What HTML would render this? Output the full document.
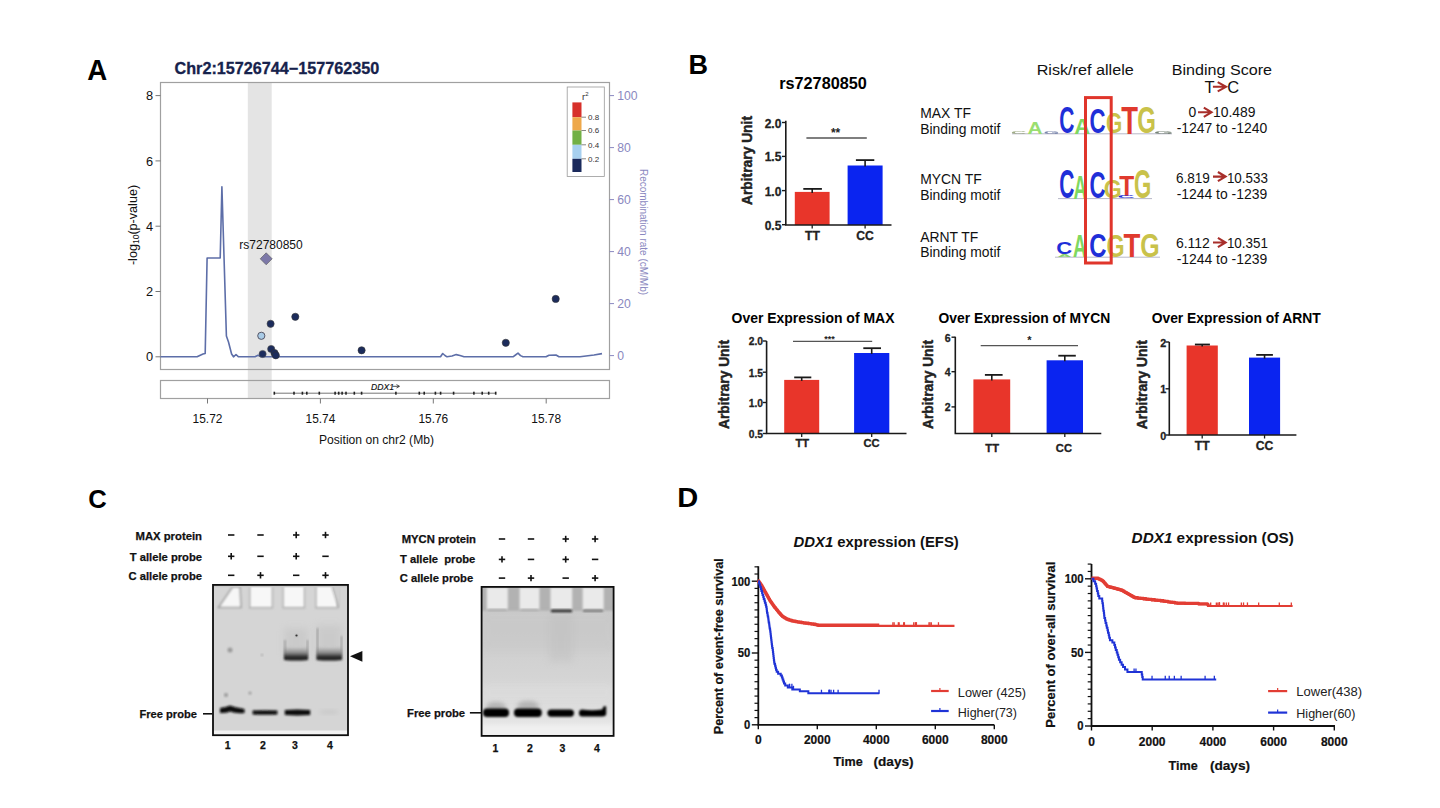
<!DOCTYPE html>
<html><head><meta charset="utf-8"><style>
html,body{margin:0;padding:0;background:#fff;}
svg{display:block;font-family:"Liberation Sans", sans-serif;}
</style></head><body>
<svg width="1440" height="808" viewBox="0 0 1440 808" font-family='"Liberation Sans", sans-serif'>
<rect width="1440" height="808" fill="#fff"/>
<text x="87.30" y="79.70" font-size="29" font-weight="bold" font-style="normal" text-anchor="start" fill="#000" textLength="20" lengthAdjust="spacingAndGlyphs" >A</text>
<text x="688.50" y="73.80" font-size="27.5" font-weight="bold" font-style="normal" text-anchor="start" fill="#000" textLength="19.5" lengthAdjust="spacingAndGlyphs" >B</text>
<text x="88.30" y="507.70" font-size="25.5" font-weight="bold" font-style="normal" text-anchor="start" fill="#000" textLength="18.5" lengthAdjust="spacingAndGlyphs" >C</text>
<text x="677.30" y="507.20" font-size="27" font-weight="bold" font-style="normal" text-anchor="start" fill="#000" textLength="21" lengthAdjust="spacingAndGlyphs" >D</text>
<text x="174.50" y="73.80" font-size="16.2" font-weight="bold" font-style="normal" text-anchor="start" fill="#16224c" stroke="#16224c" stroke-width="0.3">Chr2:15726744−157762350</text>
<rect x="247.80" y="82.50" width="23.90" height="316.00" fill="#e4e4e4" stroke="none" stroke-width="1" />
<rect x="160.50" y="82.50" width="449.00" height="287.00" fill="none" stroke="#a0a0a0" stroke-width="1.2" />
<rect x="160.50" y="380.50" width="449.00" height="18.00" fill="none" stroke="#a0a0a0" stroke-width="1.2" />
<line x1="155.50" y1="356.80" x2="160.50" y2="356.80" stroke="#777" stroke-width="1" />
<text x="153.00" y="361.40" font-size="12.8" font-weight="normal" font-style="normal" text-anchor="end" fill="#111" >0</text>
<line x1="155.50" y1="291.50" x2="160.50" y2="291.50" stroke="#777" stroke-width="1" />
<text x="153.00" y="296.10" font-size="12.8" font-weight="normal" font-style="normal" text-anchor="end" fill="#111" >2</text>
<line x1="155.50" y1="226.20" x2="160.50" y2="226.20" stroke="#777" stroke-width="1" />
<text x="153.00" y="230.80" font-size="12.8" font-weight="normal" font-style="normal" text-anchor="end" fill="#111" >4</text>
<line x1="155.50" y1="160.90" x2="160.50" y2="160.90" stroke="#777" stroke-width="1" />
<text x="153.00" y="165.50" font-size="12.8" font-weight="normal" font-style="normal" text-anchor="end" fill="#111" >6</text>
<line x1="155.50" y1="95.60" x2="160.50" y2="95.60" stroke="#777" stroke-width="1" />
<text x="153.00" y="100.20" font-size="12.8" font-weight="normal" font-style="normal" text-anchor="end" fill="#111" >8</text>
<text transform="translate(136.5,225) rotate(-90)" font-size="12.6" text-anchor="middle" fill="#111">-log<tspan font-size="8.5" dy="2.5">10</tspan><tspan dy="-2.5">(p-value)</tspan></text>
<line x1="609.50" y1="355.60" x2="614.00" y2="355.60" stroke="#8a88c0" stroke-width="1" />
<text x="617.30" y="360.10" font-size="12.2" font-weight="normal" font-style="normal" text-anchor="start" fill="#8a88c0" >0</text>
<line x1="609.50" y1="303.60" x2="614.00" y2="303.60" stroke="#8a88c0" stroke-width="1" />
<text x="617.30" y="308.10" font-size="12.2" font-weight="normal" font-style="normal" text-anchor="start" fill="#8a88c0" >20</text>
<line x1="609.50" y1="251.60" x2="614.00" y2="251.60" stroke="#8a88c0" stroke-width="1" />
<text x="617.30" y="256.10" font-size="12.2" font-weight="normal" font-style="normal" text-anchor="start" fill="#8a88c0" >40</text>
<line x1="609.50" y1="199.60" x2="614.00" y2="199.60" stroke="#8a88c0" stroke-width="1" />
<text x="617.30" y="204.10" font-size="12.2" font-weight="normal" font-style="normal" text-anchor="start" fill="#8a88c0" >60</text>
<line x1="609.50" y1="147.60" x2="614.00" y2="147.60" stroke="#8a88c0" stroke-width="1" />
<text x="617.30" y="152.10" font-size="12.2" font-weight="normal" font-style="normal" text-anchor="start" fill="#8a88c0" >80</text>
<line x1="609.50" y1="95.60" x2="614.00" y2="95.60" stroke="#8a88c0" stroke-width="1" />
<text x="617.30" y="100.10" font-size="12.2" font-weight="normal" font-style="normal" text-anchor="start" fill="#8a88c0" >100</text>
<text transform="translate(640,232) rotate(90)" font-size="10" text-anchor="middle" fill="#8a88c0">Recombination rate (cM/Mb)</text>
<line x1="207.50" y1="398.50" x2="207.50" y2="403.50" stroke="#777" stroke-width="1" />
<text x="207.50" y="422.90" font-size="11.9" font-weight="normal" font-style="normal" text-anchor="middle" fill="#111" >15.72</text>
<line x1="320.40" y1="398.50" x2="320.40" y2="403.50" stroke="#777" stroke-width="1" />
<text x="320.40" y="422.90" font-size="11.9" font-weight="normal" font-style="normal" text-anchor="middle" fill="#111" >15.74</text>
<line x1="433.30" y1="398.50" x2="433.30" y2="403.50" stroke="#777" stroke-width="1" />
<text x="433.30" y="422.90" font-size="11.9" font-weight="normal" font-style="normal" text-anchor="middle" fill="#111" >15.76</text>
<line x1="546.20" y1="398.50" x2="546.20" y2="403.50" stroke="#777" stroke-width="1" />
<text x="546.20" y="422.90" font-size="11.9" font-weight="normal" font-style="normal" text-anchor="middle" fill="#111" >15.78</text>
<text x="376.50" y="444.40" font-size="12.1" font-weight="normal" font-style="normal" text-anchor="middle" fill="#111" >Position on chr2 (Mb)</text>
<rect x="567.20" y="87.00" width="37.10" height="89.50" fill="#fff" stroke="#999" stroke-width="0.8" />
<rect x="572.40" y="102.40" width="9.10" height="14.80" fill="#d7302a" stroke="none" stroke-width="1" />
<rect x="572.40" y="117.20" width="9.10" height="13.30" fill="#eea84a" stroke="none" stroke-width="1" />
<rect x="572.40" y="130.50" width="9.10" height="14.30" fill="#72b045" stroke="none" stroke-width="1" />
<rect x="572.40" y="144.80" width="9.10" height="14.00" fill="#a7d0ef" stroke="none" stroke-width="1" />
<rect x="572.40" y="158.80" width="9.10" height="13.20" fill="#1b2a5c" stroke="none" stroke-width="1" />
<line x1="581.50" y1="117.20" x2="586.00" y2="117.20" stroke="#555" stroke-width="0.7" />
<text x="588.00" y="120.00" font-size="8" font-weight="normal" font-style="normal" text-anchor="start" fill="#333" >0.8</text>
<line x1="581.50" y1="130.50" x2="586.00" y2="130.50" stroke="#555" stroke-width="0.7" />
<text x="588.00" y="133.30" font-size="8" font-weight="normal" font-style="normal" text-anchor="start" fill="#333" >0.6</text>
<line x1="581.50" y1="144.80" x2="586.00" y2="144.80" stroke="#555" stroke-width="0.7" />
<text x="588.00" y="147.60" font-size="8" font-weight="normal" font-style="normal" text-anchor="start" fill="#333" >0.4</text>
<line x1="581.50" y1="158.80" x2="586.00" y2="158.80" stroke="#555" stroke-width="0.7" />
<text x="588.00" y="161.60" font-size="8" font-weight="normal" font-style="normal" text-anchor="start" fill="#333" >0.2</text>
<text x="582" y="99.5" font-size="9.5" fill="#333">r<tspan font-size="6" dy="-4">2</tspan></text>
<path d="M160.5,356.8 L197.1,356.8 L203.0,354.0 L205.2,353.5 L207.1,258.0 L220.2,258.0 L221.9,186.7 L226.4,336.0 L228.5,342.0 L231.6,354.0 L233.5,356.8 L236.0,354.5 L238.5,356.8 L255.0,356.8 L258.0,355.3 L261.0,356.8 L438.0,356.8 L440.5,356.8 L442.7,353.5 L445.0,355.5 L447.0,356.8 L452.0,356.0 L456.2,354.6 L460.0,355.5 L464.0,356.8 L513.0,356.8 L515.5,355.0 L518.0,353.2 L520.5,355.6 L523.0,356.8 L546.0,356.8 L549.0,355.2 L556.0,355.0 L559.0,356.8 L580.0,356.8 L594.0,355.0 L602.0,353.6" fill="none" stroke="#5d6ea8" stroke-width="1.6" stroke-linejoin="round"/>
<circle cx="262.6" cy="354" r="3.6" fill="#1c2c5c" stroke="#555" stroke-width="0.6"/>
<circle cx="271.2" cy="349" r="3.6" fill="#1c2c5c" stroke="#444" stroke-width="0.6"/>
<circle cx="274.5" cy="353" r="3.6" fill="#1c2c5c" stroke="#333" stroke-width="0.6"/>
<circle cx="275.8" cy="355.3" r="3.6" fill="#1c2c5c" stroke="#333" stroke-width="0.6"/>
<circle cx="270.6" cy="323.8" r="3.6" fill="#1c2c5c" stroke="#444" stroke-width="0.6"/>
<circle cx="295.3" cy="316.8" r="3.6" fill="#1c2c5c" stroke="#333" stroke-width="0.6"/>
<circle cx="361.6" cy="350.3" r="3.6" fill="#1c2c5c" stroke="#333" stroke-width="0.6"/>
<circle cx="505.8" cy="342.8" r="3.6" fill="#1c2c5c" stroke="#333" stroke-width="0.6"/>
<circle cx="555.7" cy="298.9" r="3.6" fill="#1c2c5c" stroke="#333" stroke-width="0.6"/>
<circle cx="261.3" cy="335.8" r="3.6" fill="#a9cbe6" stroke="#556" stroke-width="1"/>
<path d="M266.2,252.8 L272.2,258.8 L266.2,264.8 L260.2,258.8 Z" fill="#7c78a8" stroke="#555" stroke-width="0.6"/>
<text x="271.00" y="249.00" font-size="12" font-weight="normal" font-style="normal" text-anchor="middle" fill="#111" >rs72780850</text>
<line x1="274.30" y1="393.20" x2="495.70" y2="393.20" stroke="#666" stroke-width="0.9" />
<rect x="273.50" y="391.70" width="1.60" height="3.00" fill="#222" stroke="none" stroke-width="1" />
<rect x="293.20" y="391.70" width="1.60" height="3.00" fill="#222" stroke="none" stroke-width="1" />
<rect x="301.60" y="391.70" width="1.60" height="3.00" fill="#222" stroke="none" stroke-width="1" />
<rect x="306.00" y="391.70" width="1.60" height="3.00" fill="#222" stroke="none" stroke-width="1" />
<rect x="318.50" y="391.70" width="1.60" height="3.00" fill="#222" stroke="none" stroke-width="1" />
<rect x="334.30" y="391.70" width="1.60" height="3.00" fill="#222" stroke="none" stroke-width="1" />
<rect x="337.90" y="391.70" width="1.60" height="3.00" fill="#222" stroke="none" stroke-width="1" />
<rect x="341.30" y="391.70" width="1.60" height="3.00" fill="#222" stroke="none" stroke-width="1" />
<rect x="345.20" y="391.70" width="1.60" height="3.00" fill="#222" stroke="none" stroke-width="1" />
<rect x="353.50" y="391.70" width="1.60" height="3.00" fill="#222" stroke="none" stroke-width="1" />
<rect x="360.80" y="391.70" width="1.60" height="3.00" fill="#222" stroke="none" stroke-width="1" />
<rect x="395.10" y="391.70" width="1.60" height="3.00" fill="#222" stroke="none" stroke-width="1" />
<rect x="418.50" y="391.70" width="1.60" height="3.00" fill="#222" stroke="none" stroke-width="1" />
<rect x="423.40" y="391.70" width="1.60" height="3.00" fill="#222" stroke="none" stroke-width="1" />
<rect x="434.60" y="391.70" width="1.60" height="3.00" fill="#222" stroke="none" stroke-width="1" />
<rect x="439.80" y="391.70" width="1.60" height="3.00" fill="#222" stroke="none" stroke-width="1" />
<rect x="452.80" y="391.70" width="1.60" height="3.00" fill="#222" stroke="none" stroke-width="1" />
<rect x="473.10" y="391.70" width="1.60" height="3.00" fill="#222" stroke="none" stroke-width="1" />
<rect x="481.40" y="391.70" width="1.60" height="3.00" fill="#222" stroke="none" stroke-width="1" />
<rect x="487.90" y="391.70" width="1.60" height="3.00" fill="#222" stroke="none" stroke-width="1" />
<rect x="494.90" y="391.70" width="1.60" height="3.00" fill="#222" stroke="none" stroke-width="1" />
<text x="371" y="389.5" font-size="8.6" font-style="italic" fill="#111" stroke="#111" stroke-width="0.15">DDX1</text>
<path d="M392.5,386.3 L399,386.3 M396.5,384.6 L399.5,386.3 L396.5,388" stroke="#222" stroke-width="0.8" fill="none"/>
<text x="823.00" y="88.90" font-size="16.2" font-weight="bold" font-style="normal" text-anchor="middle" fill="#000" textLength="87.6" lengthAdjust="spacingAndGlyphs" >rs72780850</text>
<rect x="794.80" y="191.90" width="34.80" height="33.10" fill="#e8352a" stroke="none" stroke-width="1" />
<line x1="812.20" y1="188.90" x2="812.20" y2="192.90" stroke="#1a1a1a" stroke-width="1.6" />
<line x1="803.30" y1="188.90" x2="821.90" y2="188.90" stroke="#1a1a1a" stroke-width="1.8" />
<line x1="812.20" y1="225.00" x2="812.20" y2="228.50" stroke="#1a1a1a" stroke-width="1.3" />
<rect x="847.60" y="165.50" width="35.00" height="59.50" fill="#0a24f0" stroke="none" stroke-width="1" />
<line x1="865.10" y1="160.10" x2="865.10" y2="166.50" stroke="#1a1a1a" stroke-width="1.6" />
<line x1="855.90" y1="160.10" x2="874.30" y2="160.10" stroke="#1a1a1a" stroke-width="1.8" />
<line x1="865.10" y1="225.00" x2="865.10" y2="228.50" stroke="#1a1a1a" stroke-width="1.3" />
<path d="M785.80,120.70 L785.80,225.00 L891.50,225.00" fill="none" stroke="#1a1a1a" stroke-width="1.6"/>
<line x1="782.00" y1="122.50" x2="785.80" y2="122.50" stroke="#1a1a1a" stroke-width="1.4" />
<text x="781.40" y="127.58" font-size="13.2" font-weight="bold" font-style="normal" text-anchor="end" fill="#222" textLength="16.7" lengthAdjust="spacingAndGlyphs" stroke="#222" stroke-width="0.3">2.0</text>
<line x1="782.00" y1="156.40" x2="785.80" y2="156.40" stroke="#1a1a1a" stroke-width="1.4" />
<text x="781.40" y="161.48" font-size="13.2" font-weight="bold" font-style="normal" text-anchor="end" fill="#222" textLength="16.7" lengthAdjust="spacingAndGlyphs" stroke="#222" stroke-width="0.3">1.5</text>
<line x1="782.00" y1="190.60" x2="785.80" y2="190.60" stroke="#1a1a1a" stroke-width="1.4" />
<text x="781.40" y="195.68" font-size="13.2" font-weight="bold" font-style="normal" text-anchor="end" fill="#222" textLength="16.7" lengthAdjust="spacingAndGlyphs" stroke="#222" stroke-width="0.3">1.0</text>
<line x1="782.00" y1="224.70" x2="785.80" y2="224.70" stroke="#1a1a1a" stroke-width="1.4" />
<text x="781.40" y="229.78" font-size="13.2" font-weight="bold" font-style="normal" text-anchor="end" fill="#222" textLength="16.7" lengthAdjust="spacingAndGlyphs" stroke="#222" stroke-width="0.3">0.5</text>
<line x1="806.40" y1="138.00" x2="866.80" y2="138.00" stroke="#555" stroke-width="1.3" />
<text x="835.60" y="136.80" font-size="12" font-weight="bold" font-style="normal" text-anchor="middle" fill="#222" >**</text>
<text x="812.50" y="240.30" font-size="12.2" font-weight="bold" font-style="normal" text-anchor="middle" fill="#222" stroke="#222" stroke-width="0.3">TT</text>
<text x="865.00" y="240.30" font-size="12.2" font-weight="bold" font-style="normal" text-anchor="middle" fill="#222" stroke="#222" stroke-width="0.3">CC</text>
<text transform="translate(752.30,160.50) rotate(-90)" font-size="13.8" font-weight="bold" text-anchor="middle" fill="#222" stroke="#222" stroke-width="0.45" textLength="89" lengthAdjust="spacingAndGlyphs">Arbitrary Unit</text>
<rect x="784.20" y="379.90" width="35.00" height="53.60" fill="#e8352a" stroke="none" stroke-width="1" />
<line x1="801.70" y1="377.40" x2="801.70" y2="380.90" stroke="#1a1a1a" stroke-width="1.6" />
<line x1="794.20" y1="377.40" x2="811.30" y2="377.40" stroke="#1a1a1a" stroke-width="1.8" />
<line x1="801.70" y1="433.50" x2="801.70" y2="437.00" stroke="#1a1a1a" stroke-width="1.3" />
<rect x="854.10" y="353.00" width="35.20" height="80.50" fill="#0a24f0" stroke="none" stroke-width="1" />
<line x1="871.70" y1="348.20" x2="871.70" y2="354.00" stroke="#1a1a1a" stroke-width="1.6" />
<line x1="863.30" y1="348.20" x2="881.00" y2="348.20" stroke="#1a1a1a" stroke-width="1.8" />
<line x1="871.70" y1="433.50" x2="871.70" y2="437.00" stroke="#1a1a1a" stroke-width="1.3" />
<path d="M766.60,341.00 L766.60,433.50 L906.50,433.50" fill="none" stroke="#1a1a1a" stroke-width="1.6"/>
<line x1="762.80" y1="341.00" x2="766.60" y2="341.00" stroke="#1a1a1a" stroke-width="1.4" />
<text x="763.10" y="345.35" font-size="11.3" font-weight="bold" font-style="normal" text-anchor="end" fill="#222" textLength="14.29" lengthAdjust="spacingAndGlyphs" stroke="#222" stroke-width="0.3">2.0</text>
<line x1="762.80" y1="372.20" x2="766.60" y2="372.20" stroke="#1a1a1a" stroke-width="1.4" />
<text x="763.10" y="376.55" font-size="11.3" font-weight="bold" font-style="normal" text-anchor="end" fill="#222" textLength="14.29" lengthAdjust="spacingAndGlyphs" stroke="#222" stroke-width="0.3">1.5</text>
<line x1="762.80" y1="402.50" x2="766.60" y2="402.50" stroke="#1a1a1a" stroke-width="1.4" />
<text x="763.10" y="406.85" font-size="11.3" font-weight="bold" font-style="normal" text-anchor="end" fill="#222" textLength="14.29" lengthAdjust="spacingAndGlyphs" stroke="#222" stroke-width="0.3">1.0</text>
<line x1="762.80" y1="433.50" x2="766.60" y2="433.50" stroke="#1a1a1a" stroke-width="1.4" />
<text x="763.10" y="437.85" font-size="11.3" font-weight="bold" font-style="normal" text-anchor="end" fill="#222" textLength="14.29" lengthAdjust="spacingAndGlyphs" stroke="#222" stroke-width="0.3">0.5</text>
<line x1="793.00" y1="341.40" x2="872.20" y2="341.40" stroke="#555" stroke-width="1.3" />
<text x="829.50" y="341.80" font-size="9" font-weight="bold" font-style="normal" text-anchor="middle" fill="#222" >***</text>
<text x="802.30" y="447.00" font-size="11.2" font-weight="bold" font-style="normal" text-anchor="middle" fill="#222" stroke="#222" stroke-width="0.3">TT</text>
<text x="871.60" y="447.00" font-size="11.2" font-weight="bold" font-style="normal" text-anchor="middle" fill="#222" stroke="#222" stroke-width="0.3">CC</text>
<text transform="translate(729.00,384.50) rotate(-90)" font-size="13.8" font-weight="bold" text-anchor="middle" fill="#222" stroke="#222" stroke-width="0.45" textLength="89" lengthAdjust="spacingAndGlyphs">Arbitrary Unit</text>
<text x="813.00" y="322.90" font-size="13.9" font-weight="bold" font-style="normal" text-anchor="middle" fill="#000" textLength="162.9" lengthAdjust="spacingAndGlyphs" >Over Expression of MAX</text>
<rect x="973.40" y="379.40" width="36.80" height="54.10" fill="#e8352a" stroke="none" stroke-width="1" />
<line x1="991.80" y1="374.90" x2="991.80" y2="380.40" stroke="#1a1a1a" stroke-width="1.6" />
<line x1="984.90" y1="374.90" x2="1002.60" y2="374.90" stroke="#1a1a1a" stroke-width="1.8" />
<line x1="991.80" y1="433.50" x2="991.80" y2="437.00" stroke="#1a1a1a" stroke-width="1.3" />
<rect x="1046.60" y="360.30" width="36.40" height="73.20" fill="#0a24f0" stroke="none" stroke-width="1" />
<line x1="1064.80" y1="355.70" x2="1064.80" y2="361.30" stroke="#1a1a1a" stroke-width="1.6" />
<line x1="1058.30" y1="355.70" x2="1075.80" y2="355.70" stroke="#1a1a1a" stroke-width="1.8" />
<line x1="1064.80" y1="433.50" x2="1064.80" y2="437.00" stroke="#1a1a1a" stroke-width="1.3" />
<path d="M955.30,336.80 L955.30,433.50 L1101.30,433.50" fill="none" stroke="#1a1a1a" stroke-width="1.6"/>
<line x1="951.50" y1="337.20" x2="955.30" y2="337.20" stroke="#1a1a1a" stroke-width="1.4" />
<text x="950.60" y="341.67" font-size="11.6" font-weight="bold" font-style="normal" text-anchor="end" fill="#222" textLength="5.87" lengthAdjust="spacingAndGlyphs" stroke="#222" stroke-width="0.3">6</text>
<line x1="951.50" y1="371.70" x2="955.30" y2="371.70" stroke="#1a1a1a" stroke-width="1.4" />
<text x="950.60" y="376.17" font-size="11.6" font-weight="bold" font-style="normal" text-anchor="end" fill="#222" textLength="5.87" lengthAdjust="spacingAndGlyphs" stroke="#222" stroke-width="0.3">4</text>
<line x1="951.50" y1="406.90" x2="955.30" y2="406.90" stroke="#1a1a1a" stroke-width="1.4" />
<text x="950.60" y="411.37" font-size="11.6" font-weight="bold" font-style="normal" text-anchor="end" fill="#222" textLength="5.87" lengthAdjust="spacingAndGlyphs" stroke="#222" stroke-width="0.3">2</text>
<line x1="980.70" y1="345.70" x2="1078.00" y2="345.70" stroke="#555" stroke-width="1.3" />
<text x="1029.30" y="343.50" font-size="11" font-weight="bold" font-style="normal" text-anchor="middle" fill="#222" >*</text>
<text x="992.20" y="451.80" font-size="11.2" font-weight="bold" font-style="normal" text-anchor="middle" fill="#222" stroke="#222" stroke-width="0.3">TT</text>
<text x="1063.90" y="451.80" font-size="11.2" font-weight="bold" font-style="normal" text-anchor="middle" fill="#222" stroke="#222" stroke-width="0.3">CC</text>
<text transform="translate(932.50,384.50) rotate(-90)" font-size="13.8" font-weight="bold" text-anchor="middle" fill="#222" stroke="#222" stroke-width="0.45" textLength="89" lengthAdjust="spacingAndGlyphs">Arbitrary Unit</text>
<text x="1024.40" y="322.90" font-size="13.9" font-weight="bold" font-style="normal" text-anchor="middle" fill="#000" textLength="171.8" lengthAdjust="spacingAndGlyphs" >Over Expression of MYCN</text>
<rect x="930.00" y="323.30" width="190.00" height="6.00" fill="#fff" stroke="none" stroke-width="1" />
<rect x="1186.60" y="345.50" width="31.20" height="89.50" fill="#e8352a" stroke="none" stroke-width="1" />
<line x1="1202.20" y1="344.50" x2="1202.20" y2="346.50" stroke="#1a1a1a" stroke-width="1.6" />
<line x1="1194.90" y1="344.50" x2="1209.90" y2="344.50" stroke="#1a1a1a" stroke-width="1.8" />
<line x1="1202.20" y1="435.00" x2="1202.20" y2="438.50" stroke="#1a1a1a" stroke-width="1.3" />
<rect x="1249.00" y="357.60" width="31.10" height="77.40" fill="#0a24f0" stroke="none" stroke-width="1" />
<line x1="1264.55" y1="354.90" x2="1264.55" y2="358.60" stroke="#1a1a1a" stroke-width="1.6" />
<line x1="1256.20" y1="354.90" x2="1272.90" y2="354.90" stroke="#1a1a1a" stroke-width="1.8" />
<line x1="1264.55" y1="435.00" x2="1264.55" y2="438.50" stroke="#1a1a1a" stroke-width="1.3" />
<path d="M1169.30,342.00 L1169.30,435.00 L1296.40,435.00" fill="none" stroke="#1a1a1a" stroke-width="1.6"/>
<line x1="1165.50" y1="342.00" x2="1169.30" y2="342.00" stroke="#1a1a1a" stroke-width="1.4" />
<text x="1166.20" y="346.54" font-size="11.8" font-weight="bold" font-style="normal" text-anchor="end" fill="#222" textLength="5.97" lengthAdjust="spacingAndGlyphs" stroke="#222" stroke-width="0.3">2</text>
<line x1="1165.50" y1="388.80" x2="1169.30" y2="388.80" stroke="#1a1a1a" stroke-width="1.4" />
<text x="1166.20" y="393.34" font-size="11.8" font-weight="bold" font-style="normal" text-anchor="end" fill="#222" textLength="5.97" lengthAdjust="spacingAndGlyphs" stroke="#222" stroke-width="0.3">1</text>
<line x1="1165.50" y1="435.00" x2="1169.30" y2="435.00" stroke="#1a1a1a" stroke-width="1.4" />
<text x="1166.20" y="439.54" font-size="11.8" font-weight="bold" font-style="normal" text-anchor="end" fill="#222" textLength="5.97" lengthAdjust="spacingAndGlyphs" stroke="#222" stroke-width="0.3">0</text>
<text x="1202.20" y="449.70" font-size="12.2" font-weight="bold" font-style="normal" text-anchor="middle" fill="#222" stroke="#222" stroke-width="0.3">TT</text>
<text x="1264.60" y="449.70" font-size="12.2" font-weight="bold" font-style="normal" text-anchor="middle" fill="#222" stroke="#222" stroke-width="0.3">CC</text>
<text transform="translate(1146.60,384.70) rotate(-90)" font-size="13.8" font-weight="bold" text-anchor="middle" fill="#222" stroke="#222" stroke-width="0.45" textLength="89" lengthAdjust="spacingAndGlyphs">Arbitrary Unit</text>
<text x="1236.20" y="322.90" font-size="13.9" font-weight="bold" font-style="normal" text-anchor="middle" fill="#000" textLength="169.1" lengthAdjust="spacingAndGlyphs" >Over Expression of ARNT</text>
<text x="1085.20" y="75.00" font-size="15.2" font-weight="normal" font-style="normal" text-anchor="middle" fill="#111" textLength="97.1" lengthAdjust="spacingAndGlyphs" >Risk/ref allele</text>
<text x="1221.90" y="75.00" font-size="15.2" font-weight="normal" font-style="normal" text-anchor="middle" fill="#111" textLength="100.3" lengthAdjust="spacingAndGlyphs" >Binding Score</text>
<text x="1204.40" y="93.10" font-size="16.5" font-weight="normal" font-style="normal" text-anchor="start" fill="#111" >T</text>
<path d="M1212.90,86.80 L1225.10,86.80 M1217.70,82.20 L1226.10,86.80 L1217.70,91.40" stroke="#a82e2a" stroke-width="2.0" fill="none" stroke-linejoin="miter" stroke-linecap="butt"/>
<text x="1227.20" y="93.10" font-size="16.5" font-weight="normal" font-style="normal" text-anchor="start" fill="#111" >C</text>
<text x="920.20" y="117.80" font-size="13.9" font-weight="normal" font-style="normal" text-anchor="start" fill="#111" >MAX TF</text>
<text x="920.20" y="133.50" font-size="13.9" font-weight="normal" font-style="normal" text-anchor="start" fill="#111" textLength="80.2" lengthAdjust="spacingAndGlyphs" >Binding motif</text>
<text x="920.20" y="184.00" font-size="13.9" font-weight="normal" font-style="normal" text-anchor="start" fill="#111" >MYCN TF</text>
<text x="920.20" y="200.40" font-size="13.9" font-weight="normal" font-style="normal" text-anchor="start" fill="#111" textLength="80.2" lengthAdjust="spacingAndGlyphs" >Binding motif</text>
<text x="920.20" y="241.50" font-size="13.9" font-weight="normal" font-style="normal" text-anchor="start" fill="#111" >ARNT TF</text>
<text x="920.20" y="256.80" font-size="13.9" font-weight="normal" font-style="normal" text-anchor="start" fill="#111" textLength="80.2" lengthAdjust="spacingAndGlyphs" >Binding motif</text>
<text x="1188.60" y="117.20" font-size="13.9" fill="#111">0</text>
<path d="M1198.00,112.30 L1210.50,112.30 M1203.80,107.70 L1211.50,112.30 L1203.80,116.90" stroke="#a82e2a" stroke-width="2.1" fill="none" stroke-linejoin="miter" stroke-linecap="butt"/>
<text x="1213.00" y="117.20" font-size="13.9" font-weight="normal" font-style="normal" text-anchor="start" fill="#111" >10.489</text>
<text x="1221.90" y="132.60" font-size="13.9" font-weight="normal" font-style="normal" text-anchor="middle" fill="#111" textLength="90.5" lengthAdjust="spacingAndGlyphs" >-1247 to -1240</text>
<text x="1175.90" y="183.00" font-size="13.9" font-weight="normal" font-style="normal" text-anchor="start" fill="#111" textLength="34" lengthAdjust="spacingAndGlyphs" >6.819</text>
<path d="M1213.00,176.60 L1224.60,176.60 M1217.90,172.00 L1225.60,176.60 L1217.90,181.20" stroke="#a82e2a" stroke-width="2.1" fill="none" stroke-linejoin="miter" stroke-linecap="butt"/>
<text x="1226.90" y="183.00" font-size="13.9" font-weight="normal" font-style="normal" text-anchor="start" fill="#111" textLength="41" lengthAdjust="spacingAndGlyphs" >10.533</text>
<text x="1221.90" y="198.90" font-size="13.9" font-weight="normal" font-style="normal" text-anchor="middle" fill="#111" textLength="90.5" lengthAdjust="spacingAndGlyphs" >-1244 to -1239</text>
<text x="1175.90" y="247.90" font-size="13.9" font-weight="normal" font-style="normal" text-anchor="start" fill="#111" textLength="34" lengthAdjust="spacingAndGlyphs" >6.112</text>
<path d="M1213.00,242.50 L1224.60,242.50 M1217.90,237.90 L1225.60,242.50 L1217.90,247.10" stroke="#a82e2a" stroke-width="2.1" fill="none" stroke-linejoin="miter" stroke-linecap="butt"/>
<text x="1226.90" y="247.90" font-size="13.9" font-weight="normal" font-style="normal" text-anchor="start" fill="#111" textLength="41" lengthAdjust="spacingAndGlyphs" >10.351</text>
<text x="1221.90" y="264.20" font-size="13.9" font-weight="normal" font-style="normal" text-anchor="middle" fill="#111" textLength="90.5" lengthAdjust="spacingAndGlyphs" >-1244 to -1239</text>
<line x1="1012.00" y1="133.80" x2="1172.00" y2="133.80" stroke="#b8b8c8" stroke-width="1" />
<text transform="translate(1059.34,133.26) scale(0.2098,0.3777)" font-size="100" font-weight="bold" fill="#1f2fd8" opacity="1.0">C</text>
<text transform="translate(1074.15,133.62) scale(0.2209,0.2125)" font-size="100" font-weight="bold" fill="#7fd860" opacity="1.0">A</text>
<text transform="translate(1089.59,133.28) scale(0.2221,0.3564)" font-size="100" font-weight="bold" fill="#1f2fd8" opacity="1.0">C</text>
<text transform="translate(1105.94,133.33) scale(0.2092,0.3013)" font-size="100" font-weight="bold" fill="#c9c24a" opacity="1.0">G</text>
<text transform="translate(1121.20,133.64) scale(0.2738,0.3886)" font-size="100" font-weight="bold" fill="#e03a2e" opacity="1.0">T</text>
<text transform="translate(1137.21,133.26) scale(0.2404,0.3777)" font-size="100" font-weight="bold" fill="#c9c24a" opacity="1.0">G</text>
<text transform="translate(1027.48,133.62) scale(0.2090,0.1689)" font-size="100" font-weight="bold" fill="#9ade70" opacity="1.0">A</text>
<text transform="translate(1011.12,133.56) scale(0.2144,0.0438)" font-size="100" font-weight="bold" fill="#8a9a6a" opacity="0.8">C</text>
<text transform="translate(1043.68,133.56) scale(0.2003,0.0438)" font-size="100" font-weight="bold" fill="#5a6a9a" opacity="0.8">G</text>
<text transform="translate(1154.00,133.57) scale(0.2448,0.0339)" font-size="100" font-weight="bold" fill="#556655" opacity="0.8">G</text>
<line x1="1058.00" y1="198.60" x2="1152.00" y2="198.60" stroke="#b8b8c8" stroke-width="1" />
<text transform="translate(1059.34,198.13) scale(0.2098,0.4074)" font-size="100" font-weight="bold" fill="#1f2fd8" opacity="1.0">C</text>
<text transform="translate(1073.53,198.53) scale(0.1866,0.3392)" font-size="100" font-weight="bold" fill="#7fd860" opacity="1.0">A</text>
<text transform="translate(1089.59,198.18) scale(0.2221,0.3607)" font-size="100" font-weight="bold" fill="#1f2fd8" opacity="1.0">C</text>
<text transform="translate(1103.65,198.27) scale(0.2315,0.2532)" font-size="100" font-weight="bold" fill="#c9c24a" opacity="1.0">G</text>
<text transform="translate(1119.33,196.23) scale(0.2449,0.2969)" font-size="100" font-weight="bold" fill="#e03a2e" opacity="1.0">T</text>
<text transform="translate(1117.53,198.47) scale(0.2374,0.0382)" font-size="100" font-weight="bold" fill="#1f2fd8" opacity="1.0">C</text>
<text transform="translate(1134.09,198.13) scale(0.2226,0.4074)" font-size="100" font-weight="bold" fill="#c9c24a" opacity="1.0">G</text>
<line x1="1055.00" y1="257.20" x2="1160.00" y2="257.20" stroke="#b8b8c8" stroke-width="1" />
<text transform="translate(1056.30,253.65) scale(0.2205,0.1697)" font-size="100" font-weight="bold" fill="#1f2fd8" opacity="1.0">C</text>
<text transform="translate(1057.51,257.00) scale(0.1940,0.0437)" font-size="100" font-weight="bold" fill="#8ad070" opacity="1.0">A</text>
<text transform="translate(1072.93,257.03) scale(0.1881,0.3086)" font-size="100" font-weight="bold" fill="#7fd860" opacity="1.0">A</text>
<text transform="translate(1089.22,256.71) scale(0.2389,0.3253)" font-size="100" font-weight="bold" fill="#1f2fd8" opacity="1.0">C</text>
<text transform="translate(1106.54,256.71) scale(0.2329,0.3168)" font-size="100" font-weight="bold" fill="#c9c24a" opacity="1.0">G</text>
<text transform="translate(1123.50,257.03) scale(0.2755,0.3348)" font-size="100" font-weight="bold" fill="#e03a2e" opacity="1.0">T</text>
<text transform="translate(1140.18,256.71) scale(0.2493,0.3253)" font-size="100" font-weight="bold" fill="#c9c24a" opacity="1.0">G</text>
<rect x="1085.50" y="97.60" width="25.70" height="165.40" fill="none" stroke="#e0352b" stroke-width="3" />
<defs>
<filter id="b1" x="-20%" y="-50%" width="140%" height="200%"><feGaussianBlur stdDeviation="0.9"/></filter>
<filter id="b2" x="-20%" y="-50%" width="140%" height="200%"><feGaussianBlur stdDeviation="2"/></filter>
<filter id="b3" x="-30%" y="-30%" width="160%" height="160%"><feGaussianBlur stdDeviation="3.5"/></filter>
<linearGradient id="g2bg" x1="0" y1="0" x2="0" y2="1">
 <stop offset="0" stop-color="#c9c9c9"/><stop offset="0.3" stop-color="#cdcdcd"/><stop offset="0.6" stop-color="#d4d4d4"/><stop offset="0.82" stop-color="#dedede"/><stop offset="1" stop-color="#eeeeee"/>
</linearGradient>
<linearGradient id="bandg" x1="0" y1="0" x2="0" y2="1">
 <stop offset="0" stop-color="#9a9a9a" stop-opacity="0"/><stop offset="0.45" stop-color="#707070" stop-opacity="0.7"/><stop offset="0.75" stop-color="#2a2a2a"/><stop offset="1" stop-color="#1a1a1a"/>
</linearGradient>
<clipPath id="gel1"><rect x="213" y="585" width="135" height="150"/></clipPath>
<clipPath id="gel2"><rect x="481.5" y="587" width="132" height="149"/></clipPath>
</defs>
<text x="202.00" y="540.20" font-size="11.2" font-weight="bold" font-style="normal" text-anchor="end" fill="#111" textLength="66.5" lengthAdjust="spacingAndGlyphs" stroke="#111" stroke-width="0.25">MAX protein</text>
<text x="202.00" y="561.00" font-size="11.2" font-weight="bold" font-style="normal" text-anchor="end" fill="#111" textLength="72.2" lengthAdjust="spacingAndGlyphs" stroke="#111" stroke-width="0.25">T allele probe</text>
<text x="202.00" y="579.70" font-size="11.2" font-weight="bold" font-style="normal" text-anchor="end" fill="#111" textLength="73.5" lengthAdjust="spacingAndGlyphs" stroke="#111" stroke-width="0.25">C allele probe</text>
<line x1="228.00" y1="535.00" x2="234.40" y2="535.00" stroke="#111" stroke-width="1.6" />
<line x1="257.30" y1="535.00" x2="263.70" y2="535.00" stroke="#111" stroke-width="1.6" />
<line x1="293.00" y1="535.00" x2="299.40" y2="535.00" stroke="#111" stroke-width="1.6" />
<line x1="296.20" y1="531.80" x2="296.20" y2="538.20" stroke="#111" stroke-width="1.6" />
<line x1="322.30" y1="535.00" x2="328.70" y2="535.00" stroke="#111" stroke-width="1.6" />
<line x1="325.50" y1="531.80" x2="325.50" y2="538.20" stroke="#111" stroke-width="1.6" />
<line x1="228.00" y1="556.30" x2="234.40" y2="556.30" stroke="#111" stroke-width="1.6" />
<line x1="231.20" y1="553.10" x2="231.20" y2="559.50" stroke="#111" stroke-width="1.6" />
<line x1="257.30" y1="556.30" x2="263.70" y2="556.30" stroke="#111" stroke-width="1.6" />
<line x1="293.00" y1="556.30" x2="299.40" y2="556.30" stroke="#111" stroke-width="1.6" />
<line x1="296.20" y1="553.10" x2="296.20" y2="559.50" stroke="#111" stroke-width="1.6" />
<line x1="322.30" y1="556.30" x2="328.70" y2="556.30" stroke="#111" stroke-width="1.6" />
<line x1="228.00" y1="575.30" x2="234.40" y2="575.30" stroke="#111" stroke-width="1.6" />
<line x1="257.30" y1="575.30" x2="263.70" y2="575.30" stroke="#111" stroke-width="1.6" />
<line x1="260.50" y1="572.10" x2="260.50" y2="578.50" stroke="#111" stroke-width="1.6" />
<line x1="293.00" y1="575.30" x2="299.40" y2="575.30" stroke="#111" stroke-width="1.6" />
<line x1="322.30" y1="575.30" x2="328.70" y2="575.30" stroke="#111" stroke-width="1.6" />
<line x1="325.50" y1="572.10" x2="325.50" y2="578.50" stroke="#111" stroke-width="1.6" />
<g clip-path="url(#gel1)">
<rect x="212.00" y="584.00" width="137.00" height="152.00" fill="#d5d5d5" stroke="none" stroke-width="1" />
<rect x="212.00" y="730.50" width="137.00" height="6.00" fill="#f2f2f2" stroke="none" stroke-width="1" />
<path d="M218.5,607.5 L232.5,587 L240,587 L241,607.5 Z" fill="#f6f6f6" stroke="#a0a0a0" stroke-width="1.6" filter="url(#b1)"/>
<rect x="249.60" y="586.50" width="22.90" height="21.00" fill="#f7f7f7" stroke="none" stroke-width="1" filter="url(#b1)"/>
<path d="M249.6,586.5 L249.6,607.8 L272.5,607.8 L272.5,586.5" fill="none" stroke="#a8a8a8" stroke-width="1.3" filter="url(#b1)"/>
<rect x="283.00" y="586.50" width="21.60" height="21.00" fill="#f7f7f7" stroke="none" stroke-width="1" filter="url(#b1)"/>
<path d="M283.0,586.5 L283.0,607.8 L304.6,607.8 L304.6,586.5" fill="none" stroke="#a8a8a8" stroke-width="1.3" filter="url(#b1)"/>
<rect x="315.80" y="586.50" width="22.20" height="21.00" fill="#f7f7f7" stroke="none" stroke-width="1" filter="url(#b1)"/>
<path d="M315.8,586.5 L315.8,607.8 L338.0,607.8 L338.0,586.5" fill="none" stroke="#a8a8a8" stroke-width="1.3" filter="url(#b1)"/>
<path d="M332,586 L338.5,607.5 L339.5,586 Z" fill="#d0d0d0"/>
<path d="M332,586.5 L338.5,607.5" stroke="#a8a8a8" stroke-width="1.3" filter="url(#b1)"/>
<rect x="213.00" y="585.00" width="135.00" height="2.20" fill="#c9c9c9" stroke="none" stroke-width="1" />
<rect x="284.00" y="628.00" width="24.00" height="30.00" fill="#b8b8b8" stroke="none" stroke-width="1" filter="url(#b3)" opacity="0.35"/>
<rect x="316.50" y="625.00" width="25.00" height="33.00" fill="#b8b8b8" stroke="none" stroke-width="1" filter="url(#b3)" opacity="0.35"/>
<rect x="284.00" y="640.00" width="2.00" height="18.00" fill="#a5a5a5" stroke="none" stroke-width="1" filter="url(#b1)"/>
<rect x="306.50" y="640.00" width="2.00" height="18.00" fill="#a5a5a5" stroke="none" stroke-width="1" filter="url(#b1)"/>
<rect x="316.50" y="628.00" width="2.00" height="30.00" fill="#a0a0a0" stroke="none" stroke-width="1" filter="url(#b1)"/>
<rect x="340.50" y="636.00" width="2.00" height="22.00" fill="#a5a5a5" stroke="none" stroke-width="1" filter="url(#b1)"/>
<path d="M284,646 Q296,650 308,646 L308,660 Q296,661 284,660 Z" fill="url(#bandg)" filter="url(#b1)"/>
<path d="M316.5,646 Q329,650 342,646 L342,660 Q329,661 316.5,660 Z" fill="url(#bandg)" filter="url(#b1)"/>
<path d="M220,708 Q226,707 230,705.5 Q234,707 244.5,709 L244.5,713 Q236,714 230,711.5 Q226,713.5 220,713 Z" fill="#0a0a0a" filter="url(#b1)"/>
<path d="M252.6,710.5 Q265,709.8 277.4,710.5 L277.4,714.5 Q265,715 252.6,714.5 Z" fill="#0a0a0a" filter="url(#b1)"/>
<path d="M284.8,710 Q297,709 310.2,710 L310.2,715 Q297,715.8 284.8,715 Z" fill="#0a0a0a" filter="url(#b1)"/>
<ellipse cx="329" cy="712" rx="10" ry="2" fill="#c8c8c8" filter="url(#b2)"/>
<circle cx="296.5" cy="635.5" r="1.1" fill="#9a9a9a" filter="url(#b1)"/>
<circle cx="230" cy="650" r="2.5" fill="#9a9a9a" filter="url(#b1)"/>
<circle cx="262" cy="655" r="1" fill="#9a9a9a" filter="url(#b1)"/>
<circle cx="226" cy="695" r="2" fill="#9a9a9a" filter="url(#b1)"/>
<circle cx="250" cy="693" r="1.5" fill="#9a9a9a" filter="url(#b1)"/>
<circle cx="296.5" cy="635.5" r="1.1" fill="#333"/>
</g>
<rect x="213.00" y="584.90" width="135.00" height="150.30" fill="none" stroke="#0d0d0d" stroke-width="1.8" />
<path d="M350,656.3 L362.4,651 L362.4,661.7 Z" fill="#111"/>
<text x="196.90" y="718.00" font-size="11.2" font-weight="bold" font-style="normal" text-anchor="end" fill="#111" textLength="57.4" lengthAdjust="spacingAndGlyphs" stroke="#111" stroke-width="0.25">Free probe</text>
<line x1="203.00" y1="713.80" x2="212.50" y2="713.80" stroke="#111" stroke-width="1.6" />
<text x="227.60" y="749.00" font-size="10.5" font-weight="bold" font-style="normal" text-anchor="middle" fill="#111" stroke="#111" stroke-width="0.25">1</text>
<text x="262.90" y="749.00" font-size="10.5" font-weight="bold" font-style="normal" text-anchor="middle" fill="#111" stroke="#111" stroke-width="0.25">2</text>
<text x="295.00" y="749.00" font-size="10.5" font-weight="bold" font-style="normal" text-anchor="middle" fill="#111" stroke="#111" stroke-width="0.25">3</text>
<text x="330.00" y="749.00" font-size="10.5" font-weight="bold" font-style="normal" text-anchor="middle" fill="#111" stroke="#111" stroke-width="0.25">4</text>
<text x="476.00" y="543.20" font-size="11.2" font-weight="bold" font-style="normal" text-anchor="end" fill="#111" textLength="74.3" lengthAdjust="spacingAndGlyphs" stroke="#111" stroke-width="0.25">MYCN protein</text>
<text x="475.30" y="563.30" font-size="11.2" font-weight="bold" font-style="normal" text-anchor="end" fill="#111" textLength="75.2" lengthAdjust="spacingAndGlyphs" stroke="#111" stroke-width="0.25">T allele&#160; probe</text>
<text x="473.20" y="582.40" font-size="11.2" font-weight="bold" font-style="normal" text-anchor="end" fill="#111" textLength="73.5" lengthAdjust="spacingAndGlyphs" stroke="#111" stroke-width="0.25">C allele probe</text>
<line x1="498.80" y1="539.00" x2="505.20" y2="539.00" stroke="#111" stroke-width="1.6" />
<line x1="527.80" y1="539.00" x2="534.20" y2="539.00" stroke="#111" stroke-width="1.6" />
<line x1="562.50" y1="539.00" x2="568.90" y2="539.00" stroke="#111" stroke-width="1.6" />
<line x1="565.70" y1="535.80" x2="565.70" y2="542.20" stroke="#111" stroke-width="1.6" />
<line x1="591.90" y1="539.00" x2="598.30" y2="539.00" stroke="#111" stroke-width="1.6" />
<line x1="595.10" y1="535.80" x2="595.10" y2="542.20" stroke="#111" stroke-width="1.6" />
<line x1="498.80" y1="559.40" x2="505.20" y2="559.40" stroke="#111" stroke-width="1.6" />
<line x1="502.00" y1="556.20" x2="502.00" y2="562.60" stroke="#111" stroke-width="1.6" />
<line x1="527.80" y1="559.40" x2="534.20" y2="559.40" stroke="#111" stroke-width="1.6" />
<line x1="562.50" y1="559.40" x2="568.90" y2="559.40" stroke="#111" stroke-width="1.6" />
<line x1="565.70" y1="556.20" x2="565.70" y2="562.60" stroke="#111" stroke-width="1.6" />
<line x1="591.90" y1="559.40" x2="598.30" y2="559.40" stroke="#111" stroke-width="1.6" />
<line x1="498.80" y1="578.10" x2="505.20" y2="578.10" stroke="#111" stroke-width="1.6" />
<line x1="527.80" y1="578.10" x2="534.20" y2="578.10" stroke="#111" stroke-width="1.6" />
<line x1="531.00" y1="574.90" x2="531.00" y2="581.30" stroke="#111" stroke-width="1.6" />
<line x1="562.50" y1="578.10" x2="568.90" y2="578.10" stroke="#111" stroke-width="1.6" />
<line x1="591.90" y1="578.10" x2="598.30" y2="578.10" stroke="#111" stroke-width="1.6" />
<line x1="595.10" y1="574.90" x2="595.10" y2="581.30" stroke="#111" stroke-width="1.6" />
<g clip-path="url(#gel2)">
<rect x="480.00" y="586.00" width="135.00" height="151.00" fill="url(#g2bg)" stroke="none" stroke-width="1" />
<rect x="480.00" y="586.00" width="135.00" height="25.00" fill="#b2b2b2" stroke="none" stroke-width="1" filter="url(#b1)"/>
<rect x="486.80" y="587.50" width="21.00" height="22.20" fill="#eaeaea" stroke="none" stroke-width="1" filter="url(#b1)"/>
<rect x="487.80" y="609.25" width="19.00" height="1.50" fill="#a0a0a0" stroke="none" stroke-width="1" filter="url(#b1)"/>
<rect x="519.60" y="587.50" width="19.80" height="22.20" fill="#eaeaea" stroke="none" stroke-width="1" filter="url(#b1)"/>
<rect x="520.60" y="609.25" width="17.80" height="1.50" fill="#a0a0a0" stroke="none" stroke-width="1" filter="url(#b1)"/>
<rect x="550.50" y="587.50" width="21.70" height="22.20" fill="#eaeaea" stroke="none" stroke-width="1" filter="url(#b1)"/>
<rect x="551.50" y="609.25" width="19.70" height="1.50" fill="#a0a0a0" stroke="none" stroke-width="1" filter="url(#b1)"/>
<rect x="582.70" y="587.50" width="21.00" height="22.20" fill="#eaeaea" stroke="none" stroke-width="1" filter="url(#b1)"/>
<rect x="583.70" y="609.25" width="19.00" height="1.50" fill="#a0a0a0" stroke="none" stroke-width="1" filter="url(#b1)"/>
<rect x="482.00" y="614.00" width="132.00" height="36.00" fill="#c6c6c6" stroke="none" stroke-width="1" filter="url(#b3)" opacity="0.5"/>
<rect x="549.00" y="614.00" width="24.00" height="48.00" fill="#bdbdbd" stroke="none" stroke-width="1" filter="url(#b3)" opacity="0.4"/>
<rect x="551.00" y="609.90" width="21.00" height="2.20" fill="#222" stroke="none" stroke-width="1" filter="url(#b1)"/>
<rect x="583.00" y="610.25" width="20.00" height="1.50" fill="#666" stroke="none" stroke-width="1" filter="url(#b1)"/>
<rect x="482.00" y="686.00" width="132.00" height="14.00" fill="#dcdcdc" stroke="none" stroke-width="1" filter="url(#b3)" opacity="0.8"/>
<rect x="482.00" y="725.00" width="132.00" height="12.00" fill="#f0f0f0" stroke="none" stroke-width="1" filter="url(#b2)"/>
<ellipse cx="496" cy="707" rx="10" ry="5" fill="#999" filter="url(#b2)" opacity="0.6"/>
<ellipse cx="528" cy="706" rx="11" ry="5" fill="#999" filter="url(#b2)" opacity="0.6"/>
<rect x="483.00" y="708.50" width="26.00" height="8.50" fill="#060606" stroke="none" stroke-width="1" rx="4" filter="url(#b1)"/>
<rect x="514.00" y="708.50" width="27.80" height="8.50" fill="#060606" stroke="none" stroke-width="1" rx="4" filter="url(#b1)"/>
<rect x="547.40" y="709.50" width="26.60" height="7.20" fill="#060606" stroke="none" stroke-width="1" rx="3.6" filter="url(#b1)"/>
<path d="M582,709.5 Q592,711 602,709.5 L604,706 L606.2,706.5 L606.2,714 Q606,716.5 602,716.5 L582,716.5 Q579,716.5 579,713 Q579,709.5 582,709.5 Z" fill="#060606" filter="url(#b1)"/>
</g>
<rect x="481.60" y="586.90" width="132.00" height="149.00" fill="none" stroke="#0d0d0d" stroke-width="1.8" />
<text x="465.10" y="716.50" font-size="11.2" font-weight="bold" font-style="normal" text-anchor="end" fill="#111" textLength="58" lengthAdjust="spacingAndGlyphs" stroke="#111" stroke-width="0.25">Free probe</text>
<line x1="469.90" y1="712.80" x2="481.00" y2="712.80" stroke="#111" stroke-width="1.6" />
<text x="495.40" y="751.70" font-size="10.5" font-weight="bold" font-style="normal" text-anchor="middle" fill="#111" stroke="#111" stroke-width="0.25">1</text>
<text x="530.00" y="751.70" font-size="10.5" font-weight="bold" font-style="normal" text-anchor="middle" fill="#111" stroke="#111" stroke-width="0.25">2</text>
<text x="562.30" y="751.70" font-size="10.5" font-weight="bold" font-style="normal" text-anchor="middle" fill="#111" stroke="#111" stroke-width="0.25">3</text>
<text x="596.90" y="751.70" font-size="10.5" font-weight="bold" font-style="normal" text-anchor="middle" fill="#111" stroke="#111" stroke-width="0.25">4</text>
<path d="M758.30,566.20 L758.30,724.80 L994.20,724.80" fill="none" stroke="#111" stroke-width="1.8"/>
<line x1="751.80" y1="724.80" x2="758.30" y2="724.80" stroke="#111" stroke-width="1.4" />
<line x1="754.50" y1="717.62" x2="758.30" y2="717.62" stroke="#111" stroke-width="1.2" />
<line x1="754.50" y1="710.44" x2="758.30" y2="710.44" stroke="#111" stroke-width="1.2" />
<line x1="754.50" y1="703.26" x2="758.30" y2="703.26" stroke="#111" stroke-width="1.2" />
<line x1="754.50" y1="696.08" x2="758.30" y2="696.08" stroke="#111" stroke-width="1.2" />
<line x1="754.50" y1="688.90" x2="758.30" y2="688.90" stroke="#111" stroke-width="1.2" />
<line x1="754.50" y1="681.72" x2="758.30" y2="681.72" stroke="#111" stroke-width="1.2" />
<line x1="754.50" y1="674.54" x2="758.30" y2="674.54" stroke="#111" stroke-width="1.2" />
<line x1="754.50" y1="667.36" x2="758.30" y2="667.36" stroke="#111" stroke-width="1.2" />
<line x1="754.50" y1="660.18" x2="758.30" y2="660.18" stroke="#111" stroke-width="1.2" />
<line x1="751.80" y1="653.00" x2="758.30" y2="653.00" stroke="#111" stroke-width="1.4" />
<line x1="754.50" y1="645.82" x2="758.30" y2="645.82" stroke="#111" stroke-width="1.2" />
<line x1="754.50" y1="638.64" x2="758.30" y2="638.64" stroke="#111" stroke-width="1.2" />
<line x1="754.50" y1="631.46" x2="758.30" y2="631.46" stroke="#111" stroke-width="1.2" />
<line x1="754.50" y1="624.28" x2="758.30" y2="624.28" stroke="#111" stroke-width="1.2" />
<line x1="754.50" y1="617.10" x2="758.30" y2="617.10" stroke="#111" stroke-width="1.2" />
<line x1="754.50" y1="609.92" x2="758.30" y2="609.92" stroke="#111" stroke-width="1.2" />
<line x1="754.50" y1="602.74" x2="758.30" y2="602.74" stroke="#111" stroke-width="1.2" />
<line x1="754.50" y1="595.56" x2="758.30" y2="595.56" stroke="#111" stroke-width="1.2" />
<line x1="754.50" y1="588.38" x2="758.30" y2="588.38" stroke="#111" stroke-width="1.2" />
<line x1="751.80" y1="581.20" x2="758.30" y2="581.20" stroke="#111" stroke-width="1.4" />
<line x1="754.50" y1="574.02" x2="758.30" y2="574.02" stroke="#111" stroke-width="1.2" />
<line x1="754.50" y1="566.84" x2="758.30" y2="566.84" stroke="#111" stroke-width="1.2" />
<text x="750.30" y="729.10" font-size="12.1" font-weight="bold" font-style="normal" text-anchor="end" fill="#111" textLength="6.26" lengthAdjust="spacingAndGlyphs" stroke="#111" stroke-width="0.2">0</text>
<text x="750.30" y="657.30" font-size="12.1" font-weight="bold" font-style="normal" text-anchor="end" fill="#111" textLength="12.52" lengthAdjust="spacingAndGlyphs" stroke="#111" stroke-width="0.2">50</text>
<text x="750.30" y="585.50" font-size="12.1" font-weight="bold" font-style="normal" text-anchor="end" fill="#111" textLength="18.78" lengthAdjust="spacingAndGlyphs" stroke="#111" stroke-width="0.2">100</text>
<line x1="758.30" y1="724.80" x2="758.30" y2="729.30" stroke="#111" stroke-width="1.4" />
<text x="758.30" y="743.50" font-size="12" font-weight="bold" font-style="normal" text-anchor="middle" fill="#111" stroke="#111" stroke-width="0.2">0</text>
<line x1="817.30" y1="724.80" x2="817.30" y2="729.30" stroke="#111" stroke-width="1.4" />
<text x="817.30" y="743.50" font-size="12" font-weight="bold" font-style="normal" text-anchor="middle" fill="#111" stroke="#111" stroke-width="0.2">2000</text>
<line x1="876.30" y1="724.80" x2="876.30" y2="729.30" stroke="#111" stroke-width="1.4" />
<text x="876.30" y="743.50" font-size="12" font-weight="bold" font-style="normal" text-anchor="middle" fill="#111" stroke="#111" stroke-width="0.2">4000</text>
<line x1="935.30" y1="724.80" x2="935.30" y2="729.30" stroke="#111" stroke-width="1.4" />
<text x="935.30" y="743.50" font-size="12" font-weight="bold" font-style="normal" text-anchor="middle" fill="#111" stroke="#111" stroke-width="0.2">6000</text>
<line x1="994.30" y1="724.80" x2="994.30" y2="729.30" stroke="#111" stroke-width="1.4" />
<text x="994.30" y="743.50" font-size="12" font-weight="bold" font-style="normal" text-anchor="middle" fill="#111" stroke="#111" stroke-width="0.2">8000</text>
<text x="833.50" y="766.20" font-size="13.2" font-weight="bold" font-style="normal" text-anchor="start" fill="#111" textLength="29.2" lengthAdjust="spacingAndGlyphs" stroke="#111" stroke-width="0.2">Time</text>
<text x="873.50" y="766.20" font-size="13.2" font-weight="bold" font-style="normal" text-anchor="start" fill="#111" textLength="40.1" lengthAdjust="spacingAndGlyphs" stroke="#111" stroke-width="0.2">(days)</text>
<text transform="translate(722.50,646.20) rotate(-90)" font-size="12.8" font-weight="bold" text-anchor="middle" fill="#111" stroke="#111" stroke-width="0.2" textLength="176" lengthAdjust="spacingAndGlyphs">Percent of event-free survival</text>
<text x="793.50" y="547.30" font-size="15" font-weight="bold" fill="#111" textLength="165.3" lengthAdjust="spacingAndGlyphs"><tspan font-style="italic">DDX1</tspan> expression (EFS)</text>
<path d="M758.30,581.20 L758.54,581.20 L758.54,581.54 L758.77,581.54 L758.77,581.88 L759.01,581.88 L759.01,582.21 L759.24,582.21 L759.24,582.55 L759.48,582.55 L759.48,582.89 L759.72,582.89 L759.72,583.23 L759.95,583.23 L759.95,583.57 L760.19,583.57 L760.19,583.90 L760.42,583.90 L760.42,584.24 L760.66,584.24 L760.66,584.58 L760.90,584.58 L760.90,584.92 L761.13,584.92 L761.13,585.25 L761.37,585.25 L761.37,585.59 L761.60,585.59 L761.60,585.93 L761.84,585.93 L761.84,586.27 L762.08,586.27 L762.08,586.61 L762.08,586.61 L762.08,586.94 L762.31,586.94 L762.31,587.28 L762.55,587.28 L762.55,587.62 L762.78,587.62 L762.78,587.96 L763.02,587.96 L763.02,588.30 L763.02,588.30 L763.02,588.63 L763.26,588.63 L763.26,588.97 L763.49,588.97 L763.49,589.31 L763.73,589.31 L763.73,589.65 L763.96,589.65 L763.96,589.98 L763.96,589.98 L763.96,590.32 L764.20,590.32 L764.20,590.66 L764.44,590.66 L764.44,591.00 L764.67,591.00 L764.67,591.34 L764.91,591.34 L764.91,591.67 L764.91,591.67 L764.91,592.01 L765.14,592.01 L765.14,592.35 L765.38,592.35 L765.38,592.69 L765.62,592.69 L765.62,593.03 L765.85,593.03 L765.85,593.36 L765.85,593.36 L765.85,593.70 L766.09,593.70 L766.09,594.04 L766.32,594.04 L766.32,594.38 L766.56,594.38 L766.56,594.72 L766.80,594.72 L766.80,595.05 L766.80,595.05 L766.80,595.39 L767.03,595.39 L767.03,595.73 L767.27,595.73 L767.27,596.07 L767.50,596.07 L767.50,596.40 L767.74,596.40 L767.74,596.74 L767.74,596.74 L767.74,597.08 L767.98,597.08 L767.98,597.42 L768.21,597.42 L768.21,597.76 L768.45,597.76 L768.45,598.09 L768.68,598.09 L768.68,598.43 L768.68,598.43 L768.68,598.77 L768.92,598.77 L768.92,599.11 L769.16,599.11 L769.16,599.45 L769.39,599.45 L769.39,599.78 L769.63,599.78 L769.63,600.12 L769.63,600.12 L769.63,600.46 L769.86,600.46 L769.86,600.80 L770.10,600.80 L770.10,601.14 L770.34,601.14 L770.34,601.47 L770.57,601.47 L770.57,601.81 L770.81,601.81 L770.81,602.15 L771.04,602.15 L771.04,602.49 L771.28,602.49 L771.28,602.82 L771.52,602.82 L771.52,603.16 L771.75,603.16 L771.75,603.50 L771.99,603.50 L771.99,603.84 L772.22,603.84 L772.22,604.18 L772.46,604.18 L772.46,604.51 L772.70,604.51 L772.70,604.85 L772.93,604.85 L772.93,605.19 L773.17,605.19 L773.17,605.53 L773.40,605.53 L773.40,605.87 L773.64,605.87 L773.64,606.20 L773.88,606.20 L773.88,606.54 L774.11,606.54 L774.11,606.88 L774.35,606.88 L774.35,607.22 L774.58,607.22 L774.58,607.55 L774.82,607.55 L774.82,607.89 L775.29,607.89 L775.29,608.23 L775.53,608.23 L775.53,608.57 L775.76,608.57 L775.76,608.91 L776.00,608.91 L776.00,609.24 L776.24,609.24 L776.24,609.58 L776.47,609.58 L776.47,609.92 L776.71,609.92 L776.71,610.26 L777.18,610.26 L777.18,610.60 L777.42,610.60 L777.42,610.93 L777.65,610.93 L777.65,611.27 L777.89,611.27 L777.89,611.61 L778.12,611.61 L778.12,611.95 L778.36,611.95 L778.36,612.29 L778.60,612.29 L778.60,612.62 L779.07,612.62 L779.07,612.96 L779.30,612.96 L779.30,613.30 L779.54,613.30 L779.54,613.64 L780.01,613.64 L780.01,613.97 L780.25,613.97 L780.25,614.31 L780.48,614.31 L780.48,614.65 L780.72,614.65 L780.72,614.99 L781.19,614.99 L781.19,615.33 L781.43,615.33 L781.43,615.66 L781.66,615.66 L781.66,616.00 L782.14,616.00 L782.14,616.34 L782.37,616.34 L782.37,616.68 L782.84,616.68 L782.84,617.02 L783.32,617.02 L783.32,617.35 L784.02,617.35 L784.02,617.69 L784.50,617.69 L784.50,618.03 L784.97,618.03 L784.97,618.37 L785.68,618.37 L785.68,618.70 L786.15,618.70 L786.15,619.04 L786.62,619.04 L786.62,619.38 L787.33,619.38 L787.33,619.72 L788.27,619.72 L788.27,620.06 L789.22,620.06 L789.22,620.39 L790.40,620.39 L790.40,620.73 L791.34,620.73 L791.34,621.07 L792.28,621.07 L792.28,621.41 L794.17,621.41 L794.17,621.75 L795.82,621.75 L795.82,622.08 L797.71,622.08 L797.71,622.42 L799.60,622.42 L799.60,622.76 L801.72,622.76 L801.72,623.10 L803.85,623.10 L803.85,623.44 L806.21,623.44 L806.21,623.77 L808.80,623.77 L808.80,624.11 L811.40,624.11 L811.40,624.45 L814.00,624.45 L814.00,624.79 L815.65,624.79 L815.65,625.12 L817.06,625.12 L817.06,625.46 L818.48,625.46 L818.48,625.80 L954.47,625.80" fill="none" stroke="#e23d34" stroke-width="2.2" stroke-linejoin="miter"/>
<path d="M758.30,580.60 L758.54,580.60 L758.54,580.94 L758.77,580.94 L758.77,581.28 L759.01,581.28 L759.01,581.61 L759.24,581.61 L759.24,581.95 L759.48,581.95 L759.48,582.29 L759.72,582.29 L759.72,582.63 L759.95,582.63 L759.95,582.97 L760.19,582.97 L760.19,583.30 L760.42,583.30 L760.42,583.64 L760.66,583.64 L760.66,583.98 L760.90,583.98 L760.90,584.32 L761.13,584.32 L761.13,584.65 L761.37,584.65 L761.37,584.99 L761.60,584.99 L761.60,585.33 L761.84,585.33 L761.84,585.67 L762.08,585.67 L762.08,586.01 L762.08,586.01 L762.08,586.34 L762.31,586.34 L762.31,586.68 L762.55,586.68 L762.55,587.02 L762.78,587.02 L762.78,587.36 L763.02,587.36 L763.02,587.70 L763.02,587.70 L763.02,588.03 L763.26,588.03 L763.26,588.37 L763.49,588.37 L763.49,588.71 L763.73,588.71 L763.73,589.05 L763.96,589.05 L763.96,589.38 L763.96,589.38 L763.96,589.72 L764.20,589.72 L764.20,590.06 L764.44,590.06 L764.44,590.40 L764.67,590.40 L764.67,590.74 L764.91,590.74 L764.91,591.07 L764.91,591.07 L764.91,591.41 L765.14,591.41 L765.14,591.75 L765.38,591.75 L765.38,592.09 L765.62,592.09 L765.62,592.43 L765.85,592.43 L765.85,592.76 L765.85,592.76 L765.85,593.10 L766.09,593.10 L766.09,593.44 L766.32,593.44 L766.32,593.78 L766.56,593.78 L766.56,594.12 L766.80,594.12 L766.80,594.45 L766.80,594.45 L766.80,594.79 L767.03,594.79 L767.03,595.13 L767.27,595.13 L767.27,595.47 L767.50,595.47 L767.50,595.80 L767.74,595.80 L767.74,596.14 L767.74,596.14 L767.74,596.48 L767.98,596.48 L767.98,596.82 L768.21,596.82 L768.21,597.16 L768.45,597.16 L768.45,597.49 L768.68,597.49 L768.68,597.83 L768.68,597.83 L768.68,598.17 L768.92,598.17 L768.92,598.51 L769.16,598.51 L769.16,598.85 L769.39,598.85 L769.39,599.18 L769.63,599.18 L769.63,599.52 L769.63,599.52 L769.63,599.86 L769.86,599.86 L769.86,600.20 L770.10,600.20 L770.10,600.54 L770.34,600.54 L770.34,600.87 L770.57,600.87 L770.57,601.21 L770.81,601.21 L770.81,601.55 L771.04,601.55 L771.04,601.89 L771.28,601.89 L771.28,602.22 L771.52,602.22 L771.52,602.56 L771.75,602.56 L771.75,602.90 L771.99,602.90 L771.99,603.24 L772.22,603.24 L772.22,603.58 L772.46,603.58 L772.46,603.91 L772.70,603.91 L772.70,604.25 L772.93,604.25 L772.93,604.59 L773.17,604.59 L773.17,604.93 L773.40,604.93 L773.40,605.27 L773.64,605.27 L773.64,605.60 L773.88,605.60 L773.88,605.94 L774.11,605.94 L774.11,606.28 L774.35,606.28 L774.35,606.62 L774.58,606.62 L774.58,606.95 L774.82,606.95 L774.82,607.29 L775.29,607.29 L775.29,607.63 L775.53,607.63 L775.53,607.97 L775.76,607.97 L775.76,608.31 L776.00,608.31 L776.00,608.64 L776.24,608.64 L776.24,608.98 L776.47,608.98 L776.47,609.32 L776.71,609.32 L776.71,609.66 L777.18,609.66 L777.18,610.00 L777.42,610.00 L777.42,610.33 L777.65,610.33 L777.65,610.67 L777.89,610.67 L777.89,611.01 L778.12,611.01 L778.12,611.35 L778.36,611.35 L778.36,611.69 L778.60,611.69 L778.60,612.02 L779.07,612.02 L779.07,612.36 L779.30,612.36 L779.30,612.70 L779.54,612.70 L779.54,613.04 L780.01,613.04 L780.01,613.37 L780.25,613.37 L780.25,613.71 L780.48,613.71 L780.48,614.05 L780.72,614.05 L780.72,614.39 L781.19,614.39 L781.19,614.73 L781.43,614.73 L781.43,615.06 L781.66,615.06 L781.66,615.40 L782.14,615.40 L782.14,615.74 L782.37,615.74 L782.37,616.08 L782.84,616.08 L782.84,616.42 L783.32,616.42 L783.32,616.75 L784.02,616.75 L784.02,617.09 L784.50,617.09 L784.50,617.43 L784.97,617.43 L784.97,617.77 L785.68,617.77 L785.68,618.10 L786.15,618.10 L786.15,618.44 L786.62,618.44 L786.62,618.78 L787.33,618.78 L787.33,619.12 L788.27,619.12 L788.27,619.46 L789.22,619.46 L789.22,619.79 L790.40,619.79 L790.40,620.13 L791.34,620.13 L791.34,620.47 L792.28,620.47 L792.28,620.81 L794.17,620.81 L794.17,621.15 L795.82,621.15 L795.82,621.48 L797.71,621.48 L797.71,621.82 L799.60,621.82 L799.60,622.16 L801.72,622.16 L801.72,622.50 L803.85,622.50 L803.85,622.84 L806.21,622.84 L806.21,623.17 L808.80,623.17 L808.80,623.51 L811.40,623.51 L811.40,623.85 L814.00,623.85 L814.00,624.19 L815.65,624.19 L815.65,624.52 L817.06,624.52 L817.06,624.86 L818.48,624.86 L818.48,625.20 L879.25,625.20" fill="none" stroke="#e23d34" stroke-width="3.2" stroke-linejoin="round"/>
<line x1="892.89" y1="622.20" x2="892.89" y2="626.30" stroke="#e23d34" stroke-width="1.3" />
<line x1="929.01" y1="622.20" x2="929.01" y2="626.30" stroke="#e23d34" stroke-width="1.3" />
<line x1="904.42" y1="622.20" x2="904.42" y2="626.30" stroke="#e23d34" stroke-width="1.3" />
<line x1="894.14" y1="622.20" x2="894.14" y2="626.30" stroke="#e23d34" stroke-width="1.3" />
<line x1="916.07" y1="622.20" x2="916.07" y2="626.30" stroke="#e23d34" stroke-width="1.3" />
<line x1="916.41" y1="622.20" x2="916.41" y2="626.30" stroke="#e23d34" stroke-width="1.3" />
<line x1="915.34" y1="622.20" x2="915.34" y2="626.30" stroke="#e23d34" stroke-width="1.3" />
<line x1="913.73" y1="622.20" x2="913.73" y2="626.30" stroke="#e23d34" stroke-width="1.3" />
<line x1="899.15" y1="622.20" x2="899.15" y2="626.30" stroke="#e23d34" stroke-width="1.3" />
<line x1="898.34" y1="622.20" x2="898.34" y2="626.30" stroke="#e23d34" stroke-width="1.3" />
<line x1="931.30" y1="622.20" x2="931.30" y2="626.30" stroke="#e23d34" stroke-width="1.3" />
<line x1="903.66" y1="622.20" x2="903.66" y2="626.30" stroke="#e23d34" stroke-width="1.3" />
<line x1="930.01" y1="622.20" x2="930.01" y2="626.30" stroke="#e23d34" stroke-width="1.3" />
<line x1="938.47" y1="622.20" x2="938.47" y2="626.30" stroke="#e23d34" stroke-width="1.3" />
<path d="M758.30,581.20 L759.01,581.20 L759.01,583.17 L759.72,583.17 L759.72,585.13 L760.19,585.13 L760.19,587.10 L760.90,587.10 L760.90,589.07 L761.37,589.07 L761.37,591.04 L762.08,591.04 L762.08,593.00 L762.55,593.00 L762.55,594.97 L763.26,594.97 L763.26,596.94 L763.73,596.94 L763.73,598.90 L764.44,598.90 L764.44,600.87 L764.91,600.87 L764.91,602.84 L765.62,602.84 L765.62,604.81 L766.09,604.81 L766.09,606.77 L766.56,606.77 L766.56,608.74 L766.80,608.74 L766.80,610.71 L767.03,610.71 L767.03,612.67 L767.50,612.67 L767.50,614.64 L767.74,614.64 L767.74,616.61 L768.21,616.61 L768.21,618.58 L768.45,618.58 L768.45,620.54 L768.68,620.54 L768.68,622.51 L769.16,622.51 L769.16,624.48 L769.39,624.48 L769.39,626.44 L769.63,626.44 L769.63,628.41 L770.10,628.41 L770.10,630.38 L770.34,630.38 L770.34,632.35 L770.57,632.35 L770.57,634.31 L770.81,634.31 L770.81,636.28 L771.04,636.28 L771.04,638.25 L771.28,638.25 L771.28,640.21 L771.52,640.21 L771.52,642.18 L771.75,642.18 L771.75,644.15 L771.99,644.15 L771.99,646.12 L772.22,646.12 L772.22,648.08 L772.70,648.08 L772.70,650.05 L772.93,650.05 L772.93,652.02 L773.17,652.02 L773.17,653.98 L773.40,653.98 L773.40,655.95 L773.64,655.95 L773.64,657.92 L773.88,657.92 L773.88,659.88 L774.11,659.88 L774.11,661.85 L774.35,661.85 L774.35,663.82 L775.06,663.82 L775.06,665.79 L775.53,665.79 L775.53,667.75 L776.00,667.75 L776.00,669.72 L776.71,669.72 L776.71,671.69 L778.12,671.69 L778.12,673.65 L780.72,673.65 L780.72,675.62 L781.90,675.62 L781.90,677.59 L782.61,677.59 L782.61,679.56 L783.32,679.56 L783.32,681.52 L784.02,681.52 L784.02,683.49 L785.20,683.49 L785.20,685.46 L787.80,685.46 L787.80,687.42 L792.28,687.42 L792.28,689.39 L799.84,689.39 L799.84,691.36 L808.33,691.36 L808.33,693.33 L879.25,693.33" fill="none" stroke="#1f33d6" stroke-width="2.0" stroke-linejoin="miter"/>
<line x1="791.89" y1="683.82" x2="791.89" y2="687.92" stroke="#1f33d6" stroke-width="1.3" />
<line x1="793.48" y1="685.79" x2="793.48" y2="689.89" stroke="#1f33d6" stroke-width="1.3" />
<line x1="789.58" y1="683.82" x2="789.58" y2="687.92" stroke="#1f33d6" stroke-width="1.3" />
<line x1="789.44" y1="683.82" x2="789.44" y2="687.92" stroke="#1f33d6" stroke-width="1.3" />
<line x1="838.10" y1="689.73" x2="838.10" y2="693.83" stroke="#1f33d6" stroke-width="1.3" />
<line x1="879.03" y1="689.73" x2="879.03" y2="693.83" stroke="#1f33d6" stroke-width="1.3" />
<line x1="831.03" y1="689.73" x2="831.03" y2="693.83" stroke="#1f33d6" stroke-width="1.3" />
<line x1="821.46" y1="689.73" x2="821.46" y2="693.83" stroke="#1f33d6" stroke-width="1.3" />
<line x1="829.11" y1="689.73" x2="829.11" y2="693.83" stroke="#1f33d6" stroke-width="1.3" />
<line x1="829.07" y1="689.73" x2="829.07" y2="693.83" stroke="#1f33d6" stroke-width="1.3" />
<line x1="833.61" y1="689.73" x2="833.61" y2="693.83" stroke="#1f33d6" stroke-width="1.3" />
<line x1="829.58" y1="689.73" x2="829.58" y2="693.83" stroke="#1f33d6" stroke-width="1.3" />
<line x1="931.10" y1="691.00" x2="948.70" y2="691.00" stroke="#e23d34" stroke-width="2.2" />
<line x1="939.90" y1="688.00" x2="939.90" y2="691.00" stroke="#e23d34" stroke-width="1.2" />
<text x="957.80" y="696.50" font-size="13.4" font-weight="normal" font-style="normal" text-anchor="start" fill="#222" textLength="68.2" lengthAdjust="spacingAndGlyphs" >Lower (425)</text>
<line x1="931.10" y1="711.00" x2="948.70" y2="711.00" stroke="#1f33d6" stroke-width="2.2" />
<line x1="939.90" y1="708.00" x2="939.90" y2="711.00" stroke="#1f33d6" stroke-width="1.2" />
<text x="957.80" y="717.10" font-size="13.4" font-weight="normal" font-style="normal" text-anchor="start" fill="#222" textLength="59.2" lengthAdjust="spacingAndGlyphs" >Higher(73)</text>
<path d="M1091.50,564.00 L1091.50,726.00 L1335.00,726.00" fill="none" stroke="#111" stroke-width="1.8"/>
<line x1="1085.00" y1="726.00" x2="1091.50" y2="726.00" stroke="#111" stroke-width="1.4" />
<line x1="1087.70" y1="718.64" x2="1091.50" y2="718.64" stroke="#111" stroke-width="1.2" />
<line x1="1087.70" y1="711.28" x2="1091.50" y2="711.28" stroke="#111" stroke-width="1.2" />
<line x1="1087.70" y1="703.92" x2="1091.50" y2="703.92" stroke="#111" stroke-width="1.2" />
<line x1="1087.70" y1="696.56" x2="1091.50" y2="696.56" stroke="#111" stroke-width="1.2" />
<line x1="1087.70" y1="689.20" x2="1091.50" y2="689.20" stroke="#111" stroke-width="1.2" />
<line x1="1087.70" y1="681.84" x2="1091.50" y2="681.84" stroke="#111" stroke-width="1.2" />
<line x1="1087.70" y1="674.48" x2="1091.50" y2="674.48" stroke="#111" stroke-width="1.2" />
<line x1="1087.70" y1="667.12" x2="1091.50" y2="667.12" stroke="#111" stroke-width="1.2" />
<line x1="1087.70" y1="659.76" x2="1091.50" y2="659.76" stroke="#111" stroke-width="1.2" />
<line x1="1085.00" y1="652.40" x2="1091.50" y2="652.40" stroke="#111" stroke-width="1.4" />
<line x1="1087.70" y1="645.04" x2="1091.50" y2="645.04" stroke="#111" stroke-width="1.2" />
<line x1="1087.70" y1="637.68" x2="1091.50" y2="637.68" stroke="#111" stroke-width="1.2" />
<line x1="1087.70" y1="630.32" x2="1091.50" y2="630.32" stroke="#111" stroke-width="1.2" />
<line x1="1087.70" y1="622.96" x2="1091.50" y2="622.96" stroke="#111" stroke-width="1.2" />
<line x1="1087.70" y1="615.60" x2="1091.50" y2="615.60" stroke="#111" stroke-width="1.2" />
<line x1="1087.70" y1="608.24" x2="1091.50" y2="608.24" stroke="#111" stroke-width="1.2" />
<line x1="1087.70" y1="600.88" x2="1091.50" y2="600.88" stroke="#111" stroke-width="1.2" />
<line x1="1087.70" y1="593.52" x2="1091.50" y2="593.52" stroke="#111" stroke-width="1.2" />
<line x1="1087.70" y1="586.16" x2="1091.50" y2="586.16" stroke="#111" stroke-width="1.2" />
<line x1="1085.00" y1="578.80" x2="1091.50" y2="578.80" stroke="#111" stroke-width="1.4" />
<line x1="1087.70" y1="571.44" x2="1091.50" y2="571.44" stroke="#111" stroke-width="1.2" />
<line x1="1087.70" y1="564.08" x2="1091.50" y2="564.08" stroke="#111" stroke-width="1.2" />
<text x="1083.50" y="730.30" font-size="12.1" font-weight="bold" font-style="normal" text-anchor="end" fill="#111" textLength="6.26" lengthAdjust="spacingAndGlyphs" stroke="#111" stroke-width="0.2">0</text>
<text x="1083.50" y="656.70" font-size="12.1" font-weight="bold" font-style="normal" text-anchor="end" fill="#111" textLength="12.52" lengthAdjust="spacingAndGlyphs" stroke="#111" stroke-width="0.2">50</text>
<text x="1083.50" y="583.10" font-size="12.1" font-weight="bold" font-style="normal" text-anchor="end" fill="#111" textLength="18.78" lengthAdjust="spacingAndGlyphs" stroke="#111" stroke-width="0.2">100</text>
<line x1="1091.50" y1="726.00" x2="1091.50" y2="730.50" stroke="#111" stroke-width="1.4" />
<text x="1091.50" y="745.90" font-size="12" font-weight="bold" font-style="normal" text-anchor="middle" fill="#111" stroke="#111" stroke-width="0.2">0</text>
<line x1="1152.20" y1="726.00" x2="1152.20" y2="730.50" stroke="#111" stroke-width="1.4" />
<text x="1152.20" y="745.90" font-size="12" font-weight="bold" font-style="normal" text-anchor="middle" fill="#111" stroke="#111" stroke-width="0.2">2000</text>
<line x1="1212.90" y1="726.00" x2="1212.90" y2="730.50" stroke="#111" stroke-width="1.4" />
<text x="1212.90" y="745.90" font-size="12" font-weight="bold" font-style="normal" text-anchor="middle" fill="#111" stroke="#111" stroke-width="0.2">4000</text>
<line x1="1273.60" y1="726.00" x2="1273.60" y2="730.50" stroke="#111" stroke-width="1.4" />
<text x="1273.60" y="745.90" font-size="12" font-weight="bold" font-style="normal" text-anchor="middle" fill="#111" stroke="#111" stroke-width="0.2">6000</text>
<line x1="1334.30" y1="726.00" x2="1334.30" y2="730.50" stroke="#111" stroke-width="1.4" />
<text x="1334.30" y="745.90" font-size="12" font-weight="bold" font-style="normal" text-anchor="middle" fill="#111" stroke="#111" stroke-width="0.2">8000</text>
<text x="1168.50" y="769.70" font-size="13.2" font-weight="bold" font-style="normal" text-anchor="start" fill="#111" textLength="29.2" lengthAdjust="spacingAndGlyphs" stroke="#111" stroke-width="0.2">Time</text>
<text x="1209.90" y="769.70" font-size="13.2" font-weight="bold" font-style="normal" text-anchor="start" fill="#111" textLength="40.1" lengthAdjust="spacingAndGlyphs" stroke="#111" stroke-width="0.2">(days)</text>
<text transform="translate(1055.20,644.70) rotate(-90)" font-size="12.8" font-weight="bold" text-anchor="middle" fill="#111" stroke="#111" stroke-width="0.2" textLength="166" lengthAdjust="spacingAndGlyphs">Percent of over-all survival</text>
<text x="1131.60" y="543.40" font-size="15" font-weight="bold" fill="#111" textLength="162.3" lengthAdjust="spacingAndGlyphs"><tspan font-style="italic">DDX1</tspan> expression (OS)</text>
<path d="M1091.50,578.80 L1098.30,578.80 L1098.30,579.14 L1099.03,579.14 L1099.03,579.47 L1099.76,579.47 L1099.76,579.81 L1100.48,579.81 L1100.48,580.14 L1101.21,580.14 L1101.21,580.48 L1101.94,580.48 L1101.94,580.82 L1102.43,580.82 L1102.43,581.15 L1102.91,581.15 L1102.91,581.49 L1103.15,581.49 L1103.15,581.82 L1103.64,581.82 L1103.64,582.16 L1103.88,582.16 L1103.88,582.50 L1104.13,582.50 L1104.13,582.83 L1104.37,582.83 L1104.37,583.17 L1104.61,583.17 L1104.61,583.51 L1105.10,583.51 L1105.10,583.84 L1105.34,583.84 L1105.34,584.18 L1105.58,584.18 L1105.58,584.51 L1105.83,584.51 L1105.83,584.85 L1106.07,584.85 L1106.07,585.19 L1106.55,585.19 L1106.55,585.52 L1106.80,585.52 L1106.80,585.86 L1107.04,585.86 L1107.04,586.19 L1107.28,586.19 L1107.28,586.53 L1107.52,586.53 L1107.52,586.87 L1108.74,586.87 L1108.74,587.20 L1109.95,587.20 L1109.95,587.54 L1111.17,587.54 L1111.17,587.87 L1112.62,587.87 L1112.62,588.21 L1113.84,588.21 L1113.84,588.55 L1115.05,588.55 L1115.05,588.88 L1116.27,588.88 L1116.27,589.22 L1117.48,589.22 L1117.48,589.55 L1118.69,589.55 L1118.69,589.89 L1119.91,589.89 L1119.91,590.23 L1121.12,590.23 L1121.12,590.56 L1122.09,590.56 L1122.09,590.90 L1122.82,590.90 L1122.82,591.23 L1123.31,591.23 L1123.31,591.57 L1124.04,591.57 L1124.04,591.91 L1124.52,591.91 L1124.52,592.24 L1125.01,592.24 L1125.01,592.58 L1125.73,592.58 L1125.73,592.92 L1126.22,592.92 L1126.22,593.25 L1126.95,593.25 L1126.95,593.59 L1127.43,593.59 L1127.43,593.92 L1128.16,593.92 L1128.16,594.26 L1128.65,594.26 L1128.65,594.60 L1129.13,594.60 L1129.13,594.93 L1129.86,594.93 L1129.86,595.27 L1130.35,595.27 L1130.35,595.60 L1131.08,595.60 L1131.08,595.94 L1131.56,595.94 L1131.56,596.28 L1132.29,596.28 L1132.29,596.61 L1132.78,596.61 L1132.78,596.95 L1133.26,596.95 L1133.26,597.28 L1133.99,597.28 L1133.99,597.62 L1134.48,597.62 L1134.48,597.96 L1135.45,597.96 L1135.45,598.29 L1138.12,598.29 L1138.12,598.63 L1141.03,598.63 L1141.03,598.96 L1143.70,598.96 L1143.70,599.30 L1146.37,599.30 L1146.37,599.64 L1149.04,599.64 L1149.04,599.97 L1151.96,599.97 L1151.96,600.31 L1155.11,600.31 L1155.11,600.64 L1158.03,600.64 L1158.03,600.98 L1160.94,600.98 L1160.94,601.32 L1163.61,601.32 L1163.61,601.65 L1165.80,601.65 L1165.80,601.99 L1168.22,601.99 L1168.22,602.33 L1170.41,602.33 L1170.41,602.66 L1172.84,602.66 L1172.84,603.00 L1175.02,603.00 L1175.02,603.33 L1177.45,603.33 L1177.45,603.67 L1185.46,603.67 L1185.46,604.01 L1198.82,604.01 L1198.82,604.34 L1207.56,604.34 L1207.56,604.68 L1207.80,604.68 L1207.80,605.01 L1208.04,605.01 L1208.04,605.35 L1208.04,605.35 L1208.04,605.69 L1208.29,605.69 L1208.29,606.02 L1292.60,606.02" fill="none" stroke="#e23d34" stroke-width="2.2" stroke-linejoin="miter"/>
<path d="M1091.50,578.20 L1098.30,578.20 L1098.30,578.54 L1099.03,578.54 L1099.03,578.87 L1099.76,578.87 L1099.76,579.21 L1100.48,579.21 L1100.48,579.54 L1101.21,579.54 L1101.21,579.88 L1101.94,579.88 L1101.94,580.22 L1102.43,580.22 L1102.43,580.55 L1102.91,580.55 L1102.91,580.89 L1103.15,580.89 L1103.15,581.22 L1103.64,581.22 L1103.64,581.56 L1103.88,581.56 L1103.88,581.90 L1104.13,581.90 L1104.13,582.23 L1104.37,582.23 L1104.37,582.57 L1104.61,582.57 L1104.61,582.91 L1105.10,582.91 L1105.10,583.24 L1105.34,583.24 L1105.34,583.58 L1105.58,583.58 L1105.58,583.91 L1105.83,583.91 L1105.83,584.25 L1106.07,584.25 L1106.07,584.59 L1106.55,584.59 L1106.55,584.92 L1106.80,584.92 L1106.80,585.26 L1107.04,585.26 L1107.04,585.59 L1107.28,585.59 L1107.28,585.93 L1107.52,585.93 L1107.52,586.27 L1108.74,586.27 L1108.74,586.60 L1109.95,586.60 L1109.95,586.94 L1111.17,586.94 L1111.17,587.27 L1112.62,587.27 L1112.62,587.61 L1113.84,587.61 L1113.84,587.95 L1115.05,587.95 L1115.05,588.28 L1116.27,588.28 L1116.27,588.62 L1117.48,588.62 L1117.48,588.95 L1118.69,588.95 L1118.69,589.29 L1119.91,589.29 L1119.91,589.63 L1121.12,589.63 L1121.12,589.96 L1122.09,589.96 L1122.09,590.30 L1122.82,590.30 L1122.82,590.63 L1123.31,590.63 L1123.31,590.97 L1124.04,590.97 L1124.04,591.31 L1124.52,591.31 L1124.52,591.64 L1125.01,591.64 L1125.01,591.98 L1125.73,591.98 L1125.73,592.32 L1126.22,592.32 L1126.22,592.65 L1126.95,592.65 L1126.95,592.99 L1127.43,592.99 L1127.43,593.32 L1128.16,593.32 L1128.16,593.66 L1128.65,593.66 L1128.65,594.00 L1129.13,594.00 L1129.13,594.33 L1129.86,594.33 L1129.86,594.67 L1130.35,594.67 L1130.35,595.00 L1131.08,595.00 L1131.08,595.34 L1131.56,595.34 L1131.56,595.68 L1132.29,595.68 L1132.29,596.01 L1132.78,596.01 L1132.78,596.35 L1133.26,596.35 L1133.26,596.68 L1133.99,596.68 L1133.99,597.02 L1134.48,597.02 L1134.48,597.36 L1135.45,597.36 L1135.45,597.69 L1138.12,597.69 L1138.12,598.03 L1141.03,598.03 L1141.03,598.36 L1143.70,598.36 L1143.70,598.70 L1146.37,598.70 L1146.37,599.04 L1149.04,599.04 L1149.04,599.37 L1151.96,599.37 L1151.96,599.71 L1155.11,599.71 L1155.11,600.04 L1158.03,600.04 L1158.03,600.38 L1160.94,600.38 L1160.94,600.72 L1163.61,600.72 L1163.61,601.05 L1165.80,601.05 L1165.80,601.39 L1168.22,601.39 L1168.22,601.73 L1170.41,601.73 L1170.41,602.06 L1172.84,602.06 L1172.84,602.40 L1175.02,602.40 L1175.02,602.73 L1177.45,602.73 L1177.45,603.07 L1185.46,603.07 L1185.46,603.41 L1198.82,603.41 L1198.82,603.74 L1207.56,603.74 L1207.56,604.08 L1207.80,604.08 L1207.80,604.41 L1208.04,604.41 L1208.04,604.75 L1208.04,604.75 L1208.04,605.09 L1208.29,605.09 L1208.29,605.42 L1208.35,605.42" fill="none" stroke="#e23d34" stroke-width="3.2" stroke-linejoin="round"/>
<line x1="1217.86" y1="602.42" x2="1217.86" y2="606.52" stroke="#e23d34" stroke-width="1.3" />
<line x1="1219.37" y1="602.42" x2="1219.37" y2="606.52" stroke="#e23d34" stroke-width="1.3" />
<line x1="1258.67" y1="602.42" x2="1258.67" y2="606.52" stroke="#e23d34" stroke-width="1.3" />
<line x1="1223.35" y1="602.42" x2="1223.35" y2="606.52" stroke="#e23d34" stroke-width="1.3" />
<line x1="1219.51" y1="602.42" x2="1219.51" y2="606.52" stroke="#e23d34" stroke-width="1.3" />
<line x1="1247.45" y1="602.42" x2="1247.45" y2="606.52" stroke="#e23d34" stroke-width="1.3" />
<line x1="1243.53" y1="602.42" x2="1243.53" y2="606.52" stroke="#e23d34" stroke-width="1.3" />
<line x1="1226.32" y1="602.42" x2="1226.32" y2="606.52" stroke="#e23d34" stroke-width="1.3" />
<line x1="1241.35" y1="602.42" x2="1241.35" y2="606.52" stroke="#e23d34" stroke-width="1.3" />
<line x1="1279.31" y1="602.42" x2="1279.31" y2="606.52" stroke="#e23d34" stroke-width="1.3" />
<line x1="1219.39" y1="602.42" x2="1219.39" y2="606.52" stroke="#e23d34" stroke-width="1.3" />
<line x1="1224.15" y1="602.42" x2="1224.15" y2="606.52" stroke="#e23d34" stroke-width="1.3" />
<line x1="1210.69" y1="602.42" x2="1210.69" y2="606.52" stroke="#e23d34" stroke-width="1.3" />
<line x1="1228.56" y1="602.42" x2="1228.56" y2="606.52" stroke="#e23d34" stroke-width="1.3" />
<line x1="1216.35" y1="602.42" x2="1216.35" y2="606.52" stroke="#e23d34" stroke-width="1.3" />
<line x1="1291.31" y1="602.42" x2="1291.31" y2="606.52" stroke="#e23d34" stroke-width="1.3" />
<path d="M1091.50,578.80 L1093.44,578.80 L1093.44,581.25 L1095.14,581.25 L1095.14,583.71 L1096.11,583.71 L1096.11,586.16 L1096.60,586.16 L1096.60,588.61 L1097.08,588.61 L1097.08,591.07 L1097.81,591.07 L1097.81,593.52 L1098.30,593.52 L1098.30,595.97 L1099.27,595.97 L1099.27,598.43 L1102.18,598.43 L1102.18,600.88 L1102.43,600.88 L1102.43,603.33 L1102.91,603.33 L1102.91,605.79 L1103.15,605.79 L1103.15,608.24 L1103.40,608.24 L1103.40,610.69 L1103.88,610.69 L1103.88,613.15 L1104.13,613.15 L1104.13,615.60 L1104.37,615.60 L1104.37,618.05 L1105.10,618.05 L1105.10,620.51 L1105.58,620.51 L1105.58,622.96 L1106.31,622.96 L1106.31,625.41 L1106.80,625.41 L1106.80,627.87 L1107.52,627.87 L1107.52,630.32 L1108.01,630.32 L1108.01,632.77 L1108.74,632.77 L1108.74,635.23 L1109.22,635.23 L1109.22,637.68 L1109.95,637.68 L1109.95,640.13 L1112.38,640.13 L1112.38,642.59 L1114.32,642.59 L1114.32,645.04 L1115.05,645.04 L1115.05,647.49 L1115.78,647.49 L1115.78,649.95 L1116.75,649.95 L1116.75,652.40 L1117.48,652.40 L1117.48,654.85 L1118.21,654.85 L1118.21,657.31 L1118.94,657.31 L1118.94,659.76 L1120.15,659.76 L1120.15,662.21 L1121.61,662.21 L1121.61,664.67 L1123.06,664.67 L1123.06,667.12 L1125.01,667.12 L1125.01,669.57 L1127.43,669.57 L1127.43,672.03 L1141.76,672.03 L1141.76,674.48 L1142.25,674.48 L1142.25,676.93 L1142.73,676.93 L1142.73,679.39 L1216.21,679.39" fill="none" stroke="#1f33d6" stroke-width="2.0" stroke-linejoin="miter"/>
<line x1="1135.95" y1="668.43" x2="1135.95" y2="672.53" stroke="#1f33d6" stroke-width="1.3" />
<line x1="1134.10" y1="668.43" x2="1134.10" y2="672.53" stroke="#1f33d6" stroke-width="1.3" />
<line x1="1205.10" y1="675.79" x2="1205.10" y2="679.89" stroke="#1f33d6" stroke-width="1.3" />
<line x1="1165.27" y1="675.79" x2="1165.27" y2="679.89" stroke="#1f33d6" stroke-width="1.3" />
<line x1="1181.15" y1="675.79" x2="1181.15" y2="679.89" stroke="#1f33d6" stroke-width="1.3" />
<line x1="1169.23" y1="675.79" x2="1169.23" y2="679.89" stroke="#1f33d6" stroke-width="1.3" />
<line x1="1174.36" y1="675.79" x2="1174.36" y2="679.89" stroke="#1f33d6" stroke-width="1.3" />
<line x1="1214.34" y1="675.79" x2="1214.34" y2="679.89" stroke="#1f33d6" stroke-width="1.3" />
<line x1="1152.04" y1="675.79" x2="1152.04" y2="679.89" stroke="#1f33d6" stroke-width="1.3" />
<line x1="1268.10" y1="691.10" x2="1287.20" y2="691.10" stroke="#e23d34" stroke-width="2.2" />
<line x1="1277.65" y1="688.10" x2="1277.65" y2="691.10" stroke="#e23d34" stroke-width="1.2" />
<text x="1296.30" y="695.90" font-size="13.4" font-weight="normal" font-style="normal" text-anchor="start" fill="#222" textLength="65.8" lengthAdjust="spacingAndGlyphs" >Lower(438)</text>
<line x1="1268.10" y1="712.60" x2="1287.20" y2="712.60" stroke="#1f33d6" stroke-width="2.2" />
<line x1="1277.65" y1="709.60" x2="1277.65" y2="712.60" stroke="#1f33d6" stroke-width="1.2" />
<text x="1296.30" y="717.80" font-size="13.4" font-weight="normal" font-style="normal" text-anchor="start" fill="#222" textLength="59.2" lengthAdjust="spacingAndGlyphs" >Higher(60)</text>
</svg></body></html>
